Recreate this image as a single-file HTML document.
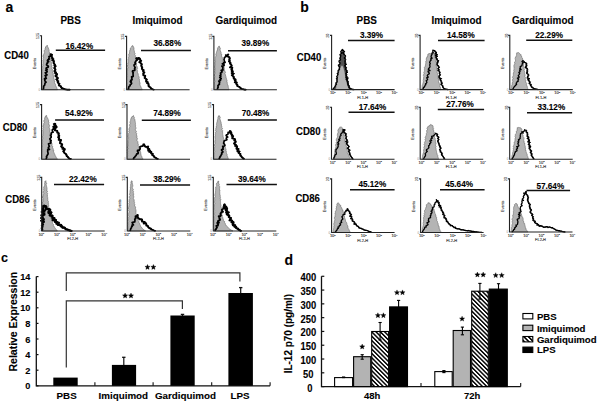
<!DOCTYPE html>
<html><head><meta charset="utf-8"><style>
html,body{margin:0;padding:0;background:#fff;width:599px;height:402px;overflow:hidden}
svg{display:block}
</style></head><body>
<svg width="599" height="402" viewBox="0 0 599 402" font-family='"Liberation Sans", sans-serif'>
<rect width="599" height="402" fill="#fff"/>
<text x="0" y="0" transform="translate(5.6,11.8) scale(1,1.05)" font-size="14" text-anchor="start" font-weight="bold" fill="#000" stroke="#000" stroke-width="0.1" >a</text>
<text x="0" y="0" transform="translate(70.7,24.2) scale(1,1.08)" font-size="9.9" text-anchor="middle" font-weight="bold" fill="#000" stroke="#000" stroke-width="0.1" >PBS</text>
<text x="0" y="0" transform="translate(157.5,24.2) scale(1,1.08)" font-size="9.9" text-anchor="middle" font-weight="bold" fill="#000" stroke="#000" stroke-width="0.1" >Imiquimod</text>
<text x="0" y="0" transform="translate(246.3,24.2) scale(1,1.08)" font-size="9.9" text-anchor="middle" font-weight="bold" fill="#000" stroke="#000" stroke-width="0.1" >Gardiquimod</text>
<text x="0" y="0" transform="translate(4.2,59.4) scale(1,1.08)" font-size="9.6" text-anchor="start" font-weight="bold" fill="#000" stroke="#000" stroke-width="0.1" >CD40</text>
<text x="0" y="0" transform="translate(2.8,130.8) scale(1,1.08)" font-size="9.6" text-anchor="start" font-weight="bold" fill="#000" stroke="#000" stroke-width="0.1" >CD80</text>
<text x="0" y="0" transform="translate(5.2,202.6) scale(1,1.08)" font-size="9.6" text-anchor="start" font-weight="bold" fill="#000" stroke="#000" stroke-width="0.1" >CD86</text>
<path d="M42.00,89.70 L42.01,89.37 L42.05,89.01 L41.98,88.60 L41.98,88.15 L41.92,87.67 L41.92,87.16 L41.86,86.62 L41.91,86.05 L42.08,85.46 L42.38,84.85 L42.22,84.21 L42.01,83.55 L42.03,82.88 L42.30,82.20 L41.96,81.50 L41.72,80.79 L42.51,80.10 L42.30,79.38 L41.81,78.66 L41.78,77.95 L41.82,77.24 L42.70,76.56 L41.87,75.84 L42.41,75.17 L42.77,74.51 L41.86,73.83 L42.24,73.20 L42.35,72.59 L42.82,72.02 L42.12,71.33 L42.22,70.68 L42.24,70.02 L42.07,69.34 L42.73,68.71 L42.90,68.04 L42.56,67.35 L42.20,66.66 L42.91,66.03 L42.97,65.37 L42.92,64.71 L42.64,64.03 L43.18,63.41 L43.02,62.76 L43.02,62.12 L43.02,61.50 L42.76,60.86 L43.03,60.27 L43.41,59.71 L43.35,59.13 L43.07,58.54 L43.59,58.04 L43.67,57.51 L42.93,56.91 L43.10,56.43 L43.23,55.96 L43.14,55.03 L44.01,54.31 L44.05,53.52 L44.09,52.77 L44.69,52.19 L44.23,51.40 L44.24,50.76 L44.33,50.18 L44.71,49.72 L45.35,49.40 L45.29,48.87 L44.93,48.25 L45.44,47.97 L45.61,46.70 L46.60,46.28 L46.83,45.49 L47.50,45.49 L47.54,46.13 L47.56,46.66 L47.95,47.29 L48.47,48.04 L48.36,49.04 L48.85,49.41 L49.25,49.84 L49.14,50.44 L48.89,51.10 L49.10,51.67 L49.68,52.18 L49.21,52.97 L49.37,53.64 L50.06,54.22 L49.55,55.09 L50.33,55.47 L50.63,55.96 L50.29,56.59 L50.04,57.22 L50.40,57.76 L50.55,58.34 L50.71,58.94 L51.01,59.53 L51.10,60.15 L51.10,60.80 L51.05,61.46 L50.76,62.16 L51.72,62.66 L51.64,63.33 L51.06,64.07 L51.44,64.62 L52.11,65.15 L51.83,65.82 L51.71,66.47 L51.54,67.14 L52.45,67.66 L51.73,68.42 L51.95,69.04 L52.53,69.61 L52.37,70.28 L52.17,70.96 L52.84,71.51 L52.49,72.20 L52.73,72.80 L53.31,73.33 L53.22,73.96 L53.20,74.62 L53.59,75.20 L52.92,75.99 L53.73,76.48 L53.87,77.11 L53.64,77.80 L53.84,78.41 L54.18,78.97 L54.31,79.57 L54.28,80.21 L54.02,80.89 L54.97,81.26 L54.32,82.02 L54.47,82.57 L54.85,83.04 L55.00,83.79 L55.53,84.42 L55.47,85.26 L55.87,85.93 L56.18,86.61 L56.52,87.23 L56.81,87.83 L56.96,88.43 L57.17,88.93 L57.38,89.34 L57.50,89.70 Z" fill="#b4b4b4" stroke="#666" stroke-width="0.6"/>
<path d="M43.00,89.70 L43.14,89.22 L43.40,88.66 L43.65,87.98 L43.53,87.09 L43.66,86.18 L44.57,85.40 L44.81,84.35 L44.99,83.22 L46.09,82.21 L45.23,81.35 L44.76,80.54 L44.95,79.79 L44.36,78.89 L46.32,78.32 L45.48,77.33 L45.86,76.49 L45.10,75.48 L47.06,74.83 L45.98,73.77 L45.24,72.76 L46.95,72.09 L47.15,71.24 L45.66,70.17 L47.17,69.56 L46.09,68.61 L46.31,67.89 L48.17,67.18 L48.38,66.21 L46.49,64.90 L46.72,63.97 L47.61,63.20 L47.24,62.22 L48.73,61.65 L47.39,60.54 L47.93,59.85 L49.09,59.37 L48.70,58.58 L49.36,58.10 L48.89,56.54 L50.62,55.98 L50.61,55.05 L50.44,54.17 L50.94,54.38 L51.14,54.35 L51.76,54.79 L51.04,56.19 L51.82,57.21 L52.24,57.78 L51.93,58.62 L53.17,59.17 L52.12,60.28 L53.62,60.94 L53.53,61.96 L53.43,63.02 L54.13,63.97 L54.66,64.63 L54.22,65.53 L55.44,66.15 L54.58,67.19 L54.04,68.20 L54.94,68.94 L55.21,69.81 L54.37,70.89 L54.42,71.79 L55.76,72.39 L55.02,73.40 L56.69,73.85 L56.74,74.77 L55.30,76.00 L56.24,76.70 L57.03,77.40 L57.72,78.10 L56.10,79.33 L57.20,79.88 L56.98,80.76 L58.07,81.21 L57.51,82.18 L58.03,83.08 L59.21,83.65 L58.64,84.94 L59.15,85.73 L60.36,85.99 L60.65,86.76 L61.11,87.37 L61.69,88.11 L62.60,88.40 L63.46,88.78 L64.31,89.17 L65.21,89.29 L66.00,89.48 L66.93,89.66 L67.86,89.72 L68.74,89.72 L69.47,89.70 L70.00,89.70" fill="none" stroke="#000" stroke-width="1.7" stroke-linejoin="round"/>
<path d="M51.22,55.98 L51.21,55.05 L51.04,54.17 L51.54,54.38 L51.74,54.35 L52.36,54.79 L51.64,56.19 L52.42,57.21 L52.84,57.78 L52.53,58.62 L53.77,59.17 L52.72,60.28 L54.22,60.94 L54.13,61.96 L54.03,63.02 L54.73,63.97 L55.26,64.63 L54.82,65.53 L56.04,66.15 L55.18,67.19 L54.64,68.20 L55.54,68.94 L55.81,69.81 L54.97,70.89 L55.02,71.79 L56.36,72.39 L55.62,73.40 L57.29,73.85 L57.34,74.77 L55.90,76.00 L56.84,76.70 L57.63,77.40 L58.32,78.10 L56.70,79.33 L57.80,79.88 L57.58,80.76 L58.67,81.21 L58.11,82.18 L58.63,83.08 L59.81,83.65 L59.24,84.94 L59.75,85.73 L60.96,85.99 L61.25,86.76 L61.71,87.37 L62.29,88.11 L63.20,88.40 L64.06,88.78 L64.91,89.17 L65.81,89.29 L66.60,89.48 L67.53,89.66 L68.46,89.72 L69.34,89.72 L70.07,89.70 L70.60,89.70" fill="none" stroke="#000" stroke-width="1.3" stroke-linejoin="round"/>
<path d="M39.9,35.699999999999996 H41.5 V89.7 H104.5" fill="none" stroke="#222" stroke-width="1.1"/>
<text x="0" y="0" font-size="3.6" fill="#555" stroke="#555" stroke-width="0.12" font-weight="normal" transform="translate(39.3,36.099999999999994) rotate(-90)" text-anchor="middle">125</text>
<text x="0" y="0" font-size="3.7" fill="#555" stroke="#555" stroke-width="0.15" font-weight="normal" transform="translate(35.5,63.5) rotate(-90)" text-anchor="middle">Events</text>
<text x="38.5" y="90.7" font-size="3.2" fill="#888" font-weight="normal">0</text>
<line x1="55.8" y1="50.2" x2="105.1" y2="50.2" stroke="#111" stroke-width="1.4"/>
<text x="0" y="0" transform="translate(79.3,48.6) scale(1,1.08)" font-size="8.2" text-anchor="middle" font-weight="bold" fill="#000" stroke="#000" stroke-width="0.1" >16.42%</text>
<path d="M127.10,89.70 L127.12,89.37 L127.09,89.00 L127.17,88.59 L127.20,88.14 L127.24,87.65 L127.17,87.13 L127.07,86.57 L127.29,86.00 L126.94,85.39 L127.18,84.76 L126.90,84.11 L127.39,83.45 L127.23,82.77 L127.45,82.08 L126.82,81.37 L127.42,80.67 L127.50,79.95 L126.85,79.23 L126.83,78.51 L126.82,77.80 L127.01,77.10 L127.50,76.41 L126.87,75.71 L127.73,75.06 L127.24,74.39 L127.07,73.75 L127.03,73.14 L126.97,72.55 L127.38,72.00 L126.98,71.29 L127.58,70.64 L127.32,69.95 L127.18,69.26 L127.55,68.62 L127.73,67.97 L127.99,67.33 L127.29,66.63 L127.73,66.02 L127.42,65.36 L128.23,64.80 L127.53,64.12 L127.86,63.54 L128.10,62.95 L128.26,62.38 L127.92,61.76 L128.52,61.24 L128.05,60.63 L128.66,60.14 L128.13,59.53 L128.22,59.01 L128.60,58.53 L128.52,58.00 L128.49,57.23 L128.89,56.53 L129.09,55.83 L128.48,55.00 L128.76,54.35 L129.00,53.71 L129.77,53.22 L129.55,52.53 L129.25,51.84 L129.91,51.42 L129.61,50.76 L129.79,50.26 L130.64,50.00 L130.23,49.38 L130.20,48.89 L130.53,47.91 L131.23,47.23 L131.64,46.61 L131.86,46.02 L132.19,45.62 L132.63,45.69 L132.56,46.20 L133.21,46.21 L133.47,46.70 L133.68,47.33 L134.04,48.05 L133.90,49.00 L133.92,50.02 L133.93,50.50 L134.52,50.88 L134.39,51.46 L134.05,52.11 L134.61,52.59 L134.99,53.13 L135.21,53.74 L134.64,54.51 L134.94,55.14 L135.60,55.70 L135.20,56.49 L135.87,57.08 L135.67,57.85 L135.68,58.58 L135.93,59.27 L135.94,60.01 L136.52,60.49 L136.57,61.07 L136.54,61.68 L136.18,62.35 L136.56,62.92 L136.38,63.58 L136.54,64.20 L136.55,64.86 L136.46,65.53 L136.90,66.12 L137.19,66.74 L137.39,67.38 L137.09,68.08 L137.65,68.66 L136.99,69.41 L137.10,70.04 L137.46,70.63 L137.26,71.29 L137.77,71.83 L137.42,72.50 L137.85,73.03 L138.05,73.68 L138.40,74.31 L137.88,75.08 L138.53,75.67 L138.83,76.30 L138.81,76.99 L139.24,77.59 L138.84,78.32 L139.37,78.89 L139.45,79.52 L139.66,80.12 L139.33,80.80 L139.53,81.36 L139.45,81.97 L140.08,82.40 L139.37,83.11 L140.23,83.44 L139.85,84.04 L140.01,84.88 L140.30,85.63 L140.71,86.29 L140.95,86.96 L141.17,87.58 L141.56,88.07 L141.79,88.57 L141.98,89.01 L142.17,89.38 L142.30,89.70 Z" fill="#b4b4b4" stroke="#666" stroke-width="0.6"/>
<path d="M128.10,89.70 L128.23,89.23 L128.53,88.70 L128.79,88.04 L128.74,87.15 L129.12,86.37 L130.12,85.77 L130.17,84.76 L131.11,84.06 L131.64,83.20 L130.17,81.74 L131.27,81.26 L130.61,80.23 L132.14,79.76 L131.75,78.77 L131.95,77.91 L131.55,76.90 L133.14,76.36 L133.18,75.45 L133.08,74.52 L132.99,73.61 L133.28,72.80 L132.47,71.76 L132.63,70.89 L134.73,70.43 L134.90,69.53 L134.56,68.55 L135.27,67.79 L134.73,66.79 L134.21,65.82 L133.97,64.92 L134.95,64.34 L135.51,63.72 L134.91,62.81 L135.49,61.72 L136.06,60.70 L137.28,60.09 L136.10,58.47 L136.81,57.91 L138.31,59.04 L138.46,57.80 L139.39,58.36 L140.08,59.75 L140.02,60.44 L140.95,60.84 L139.14,62.23 L140.19,62.74 L140.82,63.45 L141.56,64.18 L141.10,65.29 L141.31,66.22 L141.78,67.08 L141.99,68.00 L141.77,68.84 L142.24,69.52 L143.48,70.00 L142.90,71.02 L143.15,71.83 L144.15,72.42 L143.07,73.62 L143.19,74.47 L143.19,75.34 L144.93,75.66 L144.84,76.51 L144.60,77.38 L144.61,78.14 L145.61,78.83 L146.56,79.49 L145.98,80.69 L145.98,81.65 L147.39,81.98 L146.86,83.10 L148.10,83.36 L148.21,84.10 L148.34,84.80 L148.43,86.08 L149.18,86.78 L150.01,87.23 L150.51,87.88 L150.95,88.57 L151.82,88.98 L152.69,89.32 L153.45,89.56 L154.00,89.70" fill="none" stroke="#000" stroke-width="1.7" stroke-linejoin="round"/>
<path d="M138.91,59.04 L139.06,57.80 L139.99,58.36 L140.68,59.75 L140.62,60.44 L141.55,60.84 L139.74,62.23 L140.79,62.74 L141.42,63.45 L142.16,64.18 L141.70,65.29 L141.91,66.22 L142.38,67.08 L142.59,68.00 L142.37,68.84 L142.84,69.52 L144.08,70.00 L143.50,71.02 L143.75,71.83 L144.75,72.42 L143.67,73.62 L143.79,74.47 L143.79,75.34 L145.53,75.66 L145.44,76.51 L145.20,77.38 L145.21,78.14 L146.21,78.83 L147.16,79.49 L146.58,80.69 L146.58,81.65 L147.99,81.98 L147.46,83.10 L148.70,83.36 L148.81,84.10 L148.94,84.80 L149.03,86.08 L149.78,86.78 L150.61,87.23 L151.11,87.88 L151.55,88.57 L152.42,88.98 L153.29,89.32 L154.05,89.56 L154.60,89.70" fill="none" stroke="#000" stroke-width="1.3" stroke-linejoin="round"/>
<path d="M125.0,36.4 H126.6 V89.7 H189.6" fill="none" stroke="#222" stroke-width="1.1"/>
<text x="0" y="0" font-size="3.6" fill="#555" stroke="#555" stroke-width="0.12" font-weight="normal" transform="translate(124.39999999999999,36.8) rotate(-90)" text-anchor="middle">125</text>
<text x="0" y="0" font-size="3.7" fill="#555" stroke="#555" stroke-width="0.15" font-weight="normal" transform="translate(120.6,63.85) rotate(-90)" text-anchor="middle">Events</text>
<text x="123.6" y="90.7" font-size="3.2" fill="#888" font-weight="normal">0</text>
<line x1="141" y1="50.5" x2="190.9" y2="50.5" stroke="#111" stroke-width="1.4"/>
<text x="0" y="0" transform="translate(167.3,46.3) scale(1,1.08)" font-size="8.2" text-anchor="middle" font-weight="bold" fill="#000" stroke="#000" stroke-width="0.1" >36.88%</text>
<path d="M214.40,89.70 L214.41,89.37 L214.43,89.00 L214.42,88.59 L214.40,88.15 L214.45,87.67 L214.36,87.16 L214.60,86.62 L214.47,86.05 L214.63,85.46 L214.45,84.84 L214.71,84.21 L214.46,83.55 L214.10,82.87 L214.69,82.19 L214.97,81.50 L214.63,80.79 L214.74,80.08 L214.43,79.35 L214.33,78.63 L214.36,77.91 L214.72,77.19 L215.06,76.48 L214.24,75.75 L214.45,75.05 L214.37,74.36 L215.08,73.70 L215.13,73.03 L214.87,72.38 L214.64,71.74 L214.88,71.14 L215.16,70.57 L214.52,69.99 L215.15,69.32 L215.13,68.63 L214.77,67.92 L214.82,67.24 L214.79,66.56 L214.69,65.88 L215.17,65.24 L215.15,64.58 L214.74,63.89 L215.20,63.28 L215.01,62.62 L215.07,62.00 L215.65,61.42 L214.91,60.75 L215.09,60.17 L215.25,59.59 L215.53,59.04 L215.14,58.44 L215.78,57.96 L215.29,57.37 L215.67,56.89 L215.65,56.38 L216.32,55.97 L216.02,55.46 L215.79,54.97 L215.92,54.09 L216.25,53.30 L216.48,52.57 L216.47,51.85 L216.90,51.28 L217.02,50.70 L217.02,50.12 L217.66,49.78 L217.32,49.16 L217.35,48.69 L217.83,48.43 L217.47,47.86 L218.57,46.98 L218.79,46.27 L219.50,46.23 L219.13,46.97 L219.27,47.33 L220.06,47.57 L220.29,48.14 L220.42,48.80 L220.02,49.67 L220.22,50.44 L220.59,51.20 L220.65,52.08 L221.21,52.48 L221.28,53.03 L221.05,53.66 L221.12,54.26 L221.97,54.72 L221.54,55.46 L221.71,56.09 L221.74,56.76 L222.41,57.32 L221.96,58.10 L222.62,58.67 L222.97,59.30 L222.26,60.13 L222.78,60.71 L223.19,61.30 L222.59,62.08 L223.48,62.55 L223.24,63.25 L223.22,63.91 L223.45,64.51 L223.44,65.16 L223.35,65.83 L223.85,66.38 L223.77,67.05 L224.21,67.61 L224.22,68.26 L224.39,68.87 L224.28,69.54 L224.79,70.09 L224.49,70.80 L224.89,71.37 L225.34,71.93 L225.53,72.55 L224.79,73.36 L225.29,73.92 L225.34,74.58 L225.58,75.21 L225.48,75.90 L226.07,76.46 L225.91,77.16 L226.19,77.77 L226.42,78.38 L226.28,79.06 L226.69,79.62 L226.81,80.23 L227.20,80.77 L226.83,81.45 L227.29,81.94 L227.21,82.68 L227.28,83.40 L227.45,84.11 L227.63,84.80 L228.03,85.43 L228.24,86.09 L228.21,86.79 L228.29,87.43 L228.60,87.96 L228.69,88.49 L228.79,88.97 L228.91,89.37 L229.00,89.70 Z" fill="#b4b4b4" stroke="#666" stroke-width="0.6"/>
<path d="M217.30,89.70 L217.39,89.24 L217.63,88.72 L217.64,88.06 L218.10,87.44 L218.09,86.64 L217.87,85.72 L218.48,84.97 L219.48,84.27 L219.28,83.24 L219.63,82.33 L218.73,81.09 L220.49,80.52 L219.95,79.38 L221.23,78.70 L219.76,77.37 L220.85,76.70 L219.96,75.59 L220.97,74.99 L220.62,73.99 L220.51,73.05 L221.83,72.42 L222.03,71.54 L221.14,70.43 L223.06,69.92 L222.73,68.95 L222.79,68.07 L222.88,67.22 L221.84,66.13 L223.74,65.72 L224.31,65.04 L222.30,63.76 L224.07,63.45 L223.64,62.60 L225.13,62.35 L224.30,60.87 L224.02,59.56 L224.33,58.48 L224.46,57.39 L225.59,56.83 L226.17,56.19 L225.67,55.02 L227.28,55.59 L227.27,55.28 L228.06,54.43 L226.88,55.94 L227.54,56.47 L229.09,57.20 L229.54,58.41 L228.99,60.00 L229.47,60.52 L228.81,61.41 L229.57,61.99 L230.24,62.65 L229.86,63.60 L230.64,64.31 L231.26,65.09 L231.42,65.98 L229.81,67.31 L232.06,67.69 L231.65,68.71 L231.21,69.72 L232.22,70.33 L231.62,71.32 L232.69,71.80 L231.53,73.16 L233.55,73.57 L231.69,75.12 L232.50,75.85 L233.41,76.50 L233.44,77.42 L233.55,78.27 L234.03,78.97 L235.32,79.32 L234.61,80.39 L235.41,80.82 L234.67,82.29 L236.48,82.44 L236.06,83.62 L236.41,84.35 L237.15,84.78 L237.03,85.82 L237.65,86.31 L238.64,86.61 L239.38,87.10 L239.97,87.72 L240.65,88.21 L241.27,88.76 L242.00,89.01 L242.88,89.24 L243.79,89.49 L244.69,89.59 L245.46,89.65 L246.00,89.70" fill="none" stroke="#000" stroke-width="1.7" stroke-linejoin="round"/>
<path d="M227.88,55.59 L227.87,55.28 L228.66,54.43 L227.48,55.94 L228.14,56.47 L229.69,57.20 L230.14,58.41 L229.59,60.00 L230.07,60.52 L229.41,61.41 L230.17,61.99 L230.84,62.65 L230.46,63.60 L231.24,64.31 L231.86,65.09 L232.02,65.98 L230.41,67.31 L232.66,67.69 L232.25,68.71 L231.81,69.72 L232.82,70.33 L232.22,71.32 L233.29,71.80 L232.13,73.16 L234.15,73.57 L232.29,75.12 L233.10,75.85 L234.01,76.50 L234.04,77.42 L234.15,78.27 L234.63,78.97 L235.92,79.32 L235.21,80.39 L236.01,80.82 L235.27,82.29 L237.08,82.44 L236.66,83.62 L237.01,84.35 L237.75,84.78 L237.63,85.82 L238.25,86.31 L239.24,86.61 L239.98,87.10 L240.57,87.72 L241.25,88.21 L241.87,88.76 L242.60,89.01 L243.48,89.24 L244.39,89.49 L245.29,89.59 L246.06,89.65 L246.60,89.70" fill="none" stroke="#000" stroke-width="1.3" stroke-linejoin="round"/>
<path d="M212.3,36.4 H213.9 V89.7 H276.9" fill="none" stroke="#222" stroke-width="1.1"/>
<text x="0" y="0" font-size="3.6" fill="#555" stroke="#555" stroke-width="0.12" font-weight="normal" transform="translate(211.70000000000002,36.8) rotate(-90)" text-anchor="middle">125</text>
<text x="0" y="0" font-size="3.7" fill="#555" stroke="#555" stroke-width="0.15" font-weight="normal" transform="translate(207.9,63.85) rotate(-90)" text-anchor="middle">Events</text>
<text x="210.9" y="90.7" font-size="3.2" fill="#888" font-weight="normal">0</text>
<line x1="228" y1="50.8" x2="276.9" y2="50.8" stroke="#111" stroke-width="1.4"/>
<text x="0" y="0" transform="translate(255.3,46.3) scale(1,1.08)" font-size="8.2" text-anchor="middle" font-weight="bold" fill="#000" stroke="#000" stroke-width="0.1" >39.89%</text>
<path d="M42.30,159.20 L42.30,158.88 L42.34,158.52 L42.26,158.12 L42.26,157.69 L42.20,157.22 L42.20,156.73 L42.13,156.20 L42.16,155.65 L42.33,155.08 L42.61,154.48 L42.45,153.86 L42.23,153.22 L42.25,152.57 L42.51,151.90 L42.16,151.22 L41.91,150.54 L42.68,149.84 L42.46,149.14 L41.96,148.44 L41.93,147.73 L41.96,147.03 L42.83,146.34 L41.99,145.64 L42.51,144.96 L42.87,144.29 L41.95,143.61 L42.31,142.96 L42.41,142.33 L42.87,141.73 L42.15,141.11 L42.24,140.54 L42.25,139.99 L42.07,139.30 L42.73,138.64 L42.90,137.97 L42.55,137.27 L42.18,136.58 L42.89,135.94 L42.94,135.28 L42.90,134.62 L42.61,133.95 L43.15,133.33 L42.99,132.68 L42.99,132.05 L42.98,131.43 L42.72,130.80 L42.98,130.22 L43.36,129.66 L43.30,129.08 L43.01,128.49 L43.53,127.98 L43.59,127.45 L42.85,126.86 L43.01,126.37 L43.13,125.89 L42.97,125.40 L43.75,125.03 L43.76,124.06 L43.78,123.18 L44.36,122.47 L43.87,121.64 L43.85,120.94 L43.91,120.31 L44.28,119.81 L44.90,119.44 L44.82,118.90 L44.44,118.29 L44.94,117.98 L44.97,116.80 L45.86,116.33 L45.94,115.54 L46.61,115.50 L46.66,116.17 L46.74,116.82 L47.20,117.51 L47.76,118.22 L47.66,119.05 L48.24,119.48 L48.69,119.89 L48.65,120.52 L48.44,121.26 L48.68,122.03 L49.18,122.42 L48.62,123.01 L48.69,123.53 L49.31,124.02 L48.69,124.67 L49.45,125.22 L49.71,125.84 L49.33,126.56 L49.06,127.30 L49.40,128.01 L49.51,128.52 L49.63,129.06 L49.89,129.60 L49.93,130.19 L49.89,130.81 L49.81,131.44 L49.48,132.10 L50.41,132.65 L50.30,133.30 L49.68,134.01 L50.03,134.61 L50.69,135.16 L50.40,135.82 L50.27,136.44 L50.09,137.06 L51.01,137.59 L50.30,138.36 L50.53,138.98 L51.13,139.53 L50.98,140.20 L50.81,140.88 L51.50,141.38 L51.17,142.08 L51.43,142.66 L52.03,143.15 L51.96,143.79 L51.95,144.40 L52.35,144.92 L51.72,145.73 L52.55,146.19 L52.72,146.80 L52.54,147.51 L52.77,148.10 L53.14,148.64 L53.31,149.23 L53.32,149.85 L53.10,150.54 L54.06,150.83 L53.45,151.61 L53.63,152.13 L54.11,152.79 L54.31,153.53 L54.84,154.12 L54.80,154.90 L55.18,155.46 L55.47,156.02 L55.79,156.52 L56.07,156.96 L56.42,157.82 L56.86,158.43 L57.26,158.86 L57.50,159.20 Z" fill="#b4b4b4" stroke="#666" stroke-width="0.6"/>
<path d="M46.00,159.20 L46.19,158.73 L46.41,158.14 L46.74,157.47 L46.46,156.52 L46.99,155.74 L47.44,154.87 L48.07,154.02 L48.09,152.97 L47.65,151.81 L47.81,150.82 L47.64,149.81 L49.48,149.37 L48.33,148.27 L48.41,147.40 L49.32,146.65 L49.06,145.68 L48.72,144.69 L48.52,143.73 L50.71,143.18 L50.88,142.32 L50.44,141.37 L51.15,140.67 L50.10,139.67 L49.87,138.86 L50.60,138.01 L51.22,137.21 L51.15,136.29 L50.42,135.21 L51.29,134.64 L51.19,133.82 L51.23,133.07 L51.95,132.56 L53.11,132.18 L52.32,130.89 L52.29,129.88 L52.95,129.14 L54.68,128.78 L53.63,127.65 L53.08,126.78 L54.87,125.63 L53.70,123.99 L54.95,123.64 L54.30,124.56 L55.24,125.15 L54.15,126.30 L56.45,127.09 L54.92,128.40 L54.73,129.44 L54.73,130.43 L56.88,130.68 L57.19,131.90 L57.07,132.69 L58.46,133.04 L58.48,133.95 L58.26,135.01 L59.01,135.80 L57.98,137.23 L58.95,138.02 L58.77,138.90 L58.58,139.84 L60.83,139.92 L60.27,141.05 L60.09,142.07 L59.83,143.12 L60.91,143.67 L61.95,144.21 L61.68,145.24 L60.96,146.42 L61.68,147.10 L63.07,147.51 L62.19,148.83 L64.42,148.87 L64.44,149.79 L63.05,151.30 L63.76,151.90 L64.01,152.66 L64.54,153.24 L65.59,153.88 L66.18,154.68 L66.37,155.67 L66.89,156.38 L67.61,156.85 L67.97,157.53 L68.80,158.19 L69.66,158.69 L70.47,158.93 L71.00,159.20" fill="none" stroke="#000" stroke-width="1.7" stroke-linejoin="round"/>
<path d="M55.28,128.78 L55.47,125.63 L55.55,123.64 L54.90,124.56 L55.84,125.15 L57.05,127.09 L55.52,128.40 L55.33,129.44 L55.33,130.43 L57.48,130.68 L57.79,131.90 L57.67,132.69 L59.06,133.04 L59.08,133.95 L58.86,135.01 L59.61,135.80 L58.58,137.23 L59.55,138.02 L59.37,138.90 L59.18,139.84 L61.43,139.92 L60.87,141.05 L60.69,142.07 L60.43,143.12 L61.51,143.67 L62.55,144.21 L62.28,145.24 L61.56,146.42 L62.28,147.10 L63.67,147.51 L62.79,148.83 L65.02,148.87 L65.04,149.79 L63.65,151.30 L64.36,151.90 L64.61,152.66 L65.14,153.24 L66.19,153.88 L66.78,154.68 L66.97,155.67 L67.49,156.38 L68.21,156.85 L68.57,157.53 L69.40,158.19 L70.26,158.69 L71.07,158.93 L71.60,159.20" fill="none" stroke="#000" stroke-width="1.3" stroke-linejoin="round"/>
<path d="M40.0,104.60000000000001 H41.6 V159.2 H104.6" fill="none" stroke="#222" stroke-width="1.1"/>
<text x="0" y="0" font-size="3.6" fill="#555" stroke="#555" stroke-width="0.12" font-weight="normal" transform="translate(39.4,105.0) rotate(-90)" text-anchor="middle">125</text>
<text x="0" y="0" font-size="3.7" fill="#555" stroke="#555" stroke-width="0.15" font-weight="normal" transform="translate(35.6,132.7) rotate(-90)" text-anchor="middle">Events</text>
<text x="38.6" y="160.2" font-size="3.2" fill="#888" font-weight="normal">0</text>
<line x1="55.1" y1="120" x2="104" y2="120" stroke="#111" stroke-width="1.4"/>
<text x="0" y="0" transform="translate(78.9,115.6) scale(1,1.08)" font-size="8.2" text-anchor="middle" font-weight="bold" fill="#000" stroke="#000" stroke-width="0.1" >54.92%</text>
<path d="M127.40,159.20 L127.40,158.87 L127.44,158.49 L127.47,158.06 L127.46,157.60 L127.31,157.09 L127.36,156.55 L127.39,155.98 L127.69,155.39 L127.56,154.76 L127.51,154.11 L127.62,153.44 L127.20,152.75 L127.69,152.06 L127.70,151.35 L127.27,150.62 L127.44,149.91 L127.52,149.19 L128.09,148.49 L127.53,147.75 L127.22,147.02 L128.04,146.36 L128.12,145.69 L127.64,144.99 L128.06,144.43 L128.36,143.85 L127.82,143.19 L128.13,142.59 L128.06,141.95 L128.11,141.31 L128.16,140.67 L128.52,140.04 L128.65,139.40 L128.72,138.74 L127.98,138.01 L128.76,137.42 L128.09,136.70 L128.19,136.05 L128.25,135.41 L128.25,134.76 L128.66,134.16 L128.39,133.50 L128.79,132.92 L129.31,132.36 L128.89,131.72 L128.63,131.10 L129.37,130.62 L129.20,130.04 L128.92,129.47 L129.14,128.98 L129.16,128.17 L129.56,127.42 L130.02,126.71 L129.39,125.87 L129.73,125.19 L129.67,124.47 L130.13,123.85 L130.48,123.25 L129.93,122.52 L129.95,121.91 L130.26,121.38 L130.57,120.88 L130.59,120.34 L130.87,119.90 L130.62,119.35 L131.02,119.01 L131.03,117.87 L131.83,117.23 L132.01,116.44 L132.76,116.39 L132.96,115.96 L133.48,115.59 L133.43,116.29 L133.91,116.52 L133.98,117.10 L134.53,117.64 L134.15,118.52 L134.70,119.24 L135.08,120.05 L134.84,120.99 L135.21,121.43 L134.98,122.00 L135.35,122.52 L135.38,123.11 L135.53,123.70 L135.55,124.33 L134.93,125.03 L135.69,125.60 L135.55,126.27 L135.39,126.93 L135.86,127.54 L135.92,128.17 L135.89,128.79 L135.35,129.47 L135.43,130.05 L135.74,130.67 L136.40,131.23 L136.35,131.87 L135.92,132.57 L136.45,133.12 L136.71,133.70 L136.59,134.34 L136.10,135.03 L136.92,135.52 L136.38,136.23 L137.25,136.71 L136.76,137.41 L136.75,138.04 L137.57,138.54 L137.27,139.25 L136.91,139.98 L137.02,140.63 L137.47,141.23 L137.96,141.81 L137.91,142.49 L138.13,143.10 L137.90,143.79 L138.43,144.30 L138.03,144.98 L138.22,145.52 L138.55,145.99 L138.81,146.74 L138.55,147.55 L139.34,148.01 L139.21,148.70 L139.86,149.12 L140.06,149.68 L139.83,150.39 L140.26,150.92 L140.39,151.58 L140.56,152.24 L140.84,152.88 L140.79,153.60 L141.06,154.22 L140.92,154.94 L141.16,155.51 L141.51,156.00 L141.92,156.76 L142.09,157.60 L142.53,158.23 L142.82,158.78 L143.00,159.20 Z" fill="#b4b4b4" stroke="#666" stroke-width="0.6"/>
<path d="M133.00,159.20 L133.36,158.84 L133.69,158.24 L134.11,157.55 L134.83,156.99 L135.32,156.18 L136.08,155.56 L136.43,154.66 L136.77,153.86 L138.02,153.60 L138.23,152.71 L137.51,151.39 L137.49,150.43 L139.42,150.35 L139.42,149.43 L140.15,148.93 L140.09,148.05 L139.91,146.77 L141.11,146.43 L142.25,146.19 L142.88,145.76 L143.21,145.30 L143.22,144.37 L143.93,144.27 L144.01,145.49 L144.62,145.99 L145.22,146.74 L146.17,146.81 L147.89,146.48 L147.59,147.78 L147.59,148.86 L149.00,148.95 L148.06,150.69 L149.78,150.47 L149.16,151.97 L151.01,151.65 L150.82,152.84 L151.22,153.58 L152.49,153.61 L152.13,155.13 L153.15,155.57 L153.77,156.28 L154.16,157.16 L154.98,157.52 L155.83,158.08 L156.65,158.63 L157.45,158.96 L158.00,159.20" fill="none" stroke="#000" stroke-width="1.7" stroke-linejoin="round"/>
<path d="M143.48,145.76 L143.81,145.30 L143.82,144.37 L144.53,144.27 L144.61,145.49 L145.22,145.99 L145.82,146.74 L146.77,146.81 L148.49,146.48 L148.19,147.78 L148.19,148.86 L149.60,148.95 L148.66,150.69 L150.38,150.47 L149.76,151.97 L151.61,151.65 L151.42,152.84 L151.82,153.58 L153.09,153.61 L152.73,155.13 L153.75,155.57 L154.37,156.28 L154.76,157.16 L155.58,157.52 L156.43,158.08 L157.25,158.63 L158.05,158.96 L158.60,159.20" fill="none" stroke="#000" stroke-width="1.3" stroke-linejoin="round"/>
<path d="M125.4,104.60000000000001 H127 V159.2 H190" fill="none" stroke="#222" stroke-width="1.1"/>
<text x="0" y="0" font-size="3.6" fill="#555" stroke="#555" stroke-width="0.12" font-weight="normal" transform="translate(124.8,105.0) rotate(-90)" text-anchor="middle">125</text>
<text x="0" y="0" font-size="3.7" fill="#555" stroke="#555" stroke-width="0.15" font-weight="normal" transform="translate(121,132.7) rotate(-90)" text-anchor="middle">Events</text>
<text x="124" y="160.2" font-size="3.2" fill="#888" font-weight="normal">0</text>
<line x1="141.8" y1="120.2" x2="190.9" y2="120.2" stroke="#111" stroke-width="1.4"/>
<text x="0" y="0" transform="translate(167,115.6) scale(1,1.08)" font-size="8.2" text-anchor="middle" font-weight="bold" fill="#000" stroke="#000" stroke-width="0.1" >74.89%</text>
<path d="M214.00,159.20 L214.02,158.88 L214.05,158.53 L214.05,158.13 L214.05,157.71 L214.11,157.26 L214.04,156.77 L214.28,156.27 L214.17,155.72 L214.34,155.17 L214.18,154.58 L214.45,153.98 L214.23,153.35 L213.91,152.70 L214.49,152.07 L214.79,151.42 L214.48,150.73 L214.61,150.05 L214.32,149.34 L214.24,148.64 L214.30,147.95 L214.67,147.26 L215.04,146.58 L214.24,145.84 L214.48,145.16 L214.41,144.46 L215.14,143.82 L215.22,143.16 L214.98,142.48 L214.77,141.82 L215.04,141.21 L215.34,140.62 L214.72,139.98 L215.37,139.40 L215.37,138.76 L215.03,138.09 L215.10,137.44 L215.08,136.78 L215.00,136.10 L215.51,135.48 L215.50,134.81 L215.12,134.10 L215.60,133.48 L215.43,132.79 L215.51,132.12 L216.10,131.52 L215.38,130.78 L215.59,130.15 L215.77,129.52 L216.06,128.91 L215.69,128.24 L216.35,127.70 L215.87,127.03 L216.27,126.48 L216.26,125.90 L216.94,125.42 L216.66,124.84 L216.44,124.27 L216.51,123.77 L216.77,123.31 L216.93,122.87 L216.84,122.40 L217.18,122.03 L217.35,120.87 L217.40,119.80 L218.10,119.00 L217.81,118.06 L217.89,117.33 L218.43,116.89 L218.17,116.21 L218.92,116.24 L218.89,115.85 L219.12,115.47 L219.04,116.18 L219.13,116.35 L219.89,116.45 L220.13,116.98 L220.27,117.64 L219.85,118.53 L220.05,119.33 L220.41,120.17 L220.46,121.12 L221.09,121.98 L221.14,122.47 L220.88,123.04 L220.92,123.58 L221.75,124.02 L221.28,124.70 L221.42,125.30 L221.42,125.94 L222.06,126.50 L221.58,127.24 L222.21,127.83 L222.53,128.47 L221.78,129.26 L222.26,129.88 L222.65,130.52 L222.01,131.29 L222.88,131.84 L222.60,132.55 L222.56,133.21 L222.76,133.82 L222.72,134.45 L222.60,135.07 L223.09,135.67 L222.99,136.36 L223.42,136.96 L223.41,137.62 L223.57,138.25 L223.45,138.93 L223.94,139.49 L223.62,140.18 L224.01,140.75 L224.46,141.29 L224.63,141.88 L223.87,142.64 L224.36,143.16 L224.40,143.76 L224.63,144.31 L224.51,144.93 L225.09,145.40 L224.91,146.02 L225.20,146.65 L225.44,147.30 L225.32,148.02 L225.73,148.63 L225.87,149.29 L226.27,149.88 L225.91,150.62 L226.40,151.17 L226.29,151.83 L226.32,152.44 L226.44,153.01 L226.58,153.55 L226.97,154.00 L227.15,154.47 L227.00,155.00 L227.14,155.92 L227.61,156.64 L227.78,157.35 L227.97,157.95 L228.19,158.45 L228.38,158.86 L228.50,159.20 Z" fill="#b4b4b4" stroke="#666" stroke-width="0.6"/>
<path d="M219.00,159.20 L219.25,158.75 L219.43,158.12 L219.95,157.52 L219.99,156.59 L220.82,155.92 L221.07,154.95 L221.79,154.13 L221.58,152.94 L222.73,152.26 L222.85,151.52 L221.59,150.32 L221.62,149.52 L223.20,149.15 L222.85,148.18 L223.21,147.41 L222.65,146.37 L224.33,145.96 L224.98,145.28 L224.47,144.28 L223.60,143.17 L223.80,142.40 L223.98,141.66 L224.26,140.74 L225.66,140.20 L226.90,139.62 L226.26,138.39 L226.62,137.55 L227.74,137.04 L226.13,135.51 L226.46,134.80 L227.51,134.47 L228.02,134.01 L228.11,132.24 L229.67,132.18 L229.83,130.96 L230.52,131.40 L229.77,132.82 L231.25,132.88 L230.99,134.16 L232.06,134.97 L231.62,135.89 L232.87,136.20 L232.30,137.30 L232.07,138.31 L233.84,138.64 L234.86,139.26 L234.13,140.51 L235.29,141.06 L235.46,141.93 L233.90,143.44 L234.54,144.15 L235.63,144.66 L234.97,145.88 L236.80,146.04 L236.84,146.94 L236.35,148.06 L236.44,148.93 L238.34,148.96 L237.36,150.29 L237.29,151.32 L239.35,151.36 L238.38,152.80 L239.06,153.45 L240.20,153.83 L240.04,154.83 L240.22,155.63 L240.89,156.08 L241.55,156.95 L242.22,157.76 L243.05,158.25 L243.56,158.84 L244.00,159.20" fill="none" stroke="#000" stroke-width="1.7" stroke-linejoin="round"/>
<path d="M230.27,132.18 L230.43,130.96 L231.12,131.40 L230.37,132.82 L231.85,132.88 L231.59,134.16 L232.66,134.97 L232.22,135.89 L233.47,136.20 L232.90,137.30 L232.67,138.31 L234.44,138.64 L235.46,139.26 L234.73,140.51 L235.89,141.06 L236.06,141.93 L234.50,143.44 L235.14,144.15 L236.23,144.66 L235.57,145.88 L237.40,146.04 L237.44,146.94 L236.95,148.06 L237.04,148.93 L238.94,148.96 L237.96,150.29 L237.89,151.32 L239.95,151.36 L238.98,152.80 L239.66,153.45 L240.80,153.83 L240.64,154.83 L240.82,155.63 L241.49,156.08 L242.15,156.95 L242.82,157.76 L243.65,158.25 L244.16,158.84 L244.60,159.20" fill="none" stroke="#000" stroke-width="1.3" stroke-linejoin="round"/>
<path d="M211.9,104.60000000000001 H213.5 V159.2 H276.5" fill="none" stroke="#222" stroke-width="1.1"/>
<text x="0" y="0" font-size="3.6" fill="#555" stroke="#555" stroke-width="0.12" font-weight="normal" transform="translate(211.3,105.0) rotate(-90)" text-anchor="middle">125</text>
<text x="0" y="0" font-size="3.7" fill="#555" stroke="#555" stroke-width="0.15" font-weight="normal" transform="translate(207.5,132.7) rotate(-90)" text-anchor="middle">Events</text>
<text x="210.5" y="160.2" font-size="3.2" fill="#888" font-weight="normal">0</text>
<line x1="227.8" y1="120" x2="276.9" y2="120" stroke="#111" stroke-width="1.4"/>
<text x="0" y="0" transform="translate(255.5,115.6) scale(1,1.08)" font-size="8.2" text-anchor="middle" font-weight="bold" fill="#000" stroke="#000" stroke-width="0.1" >70.48%</text>
<path d="M42.20,231.00 L42.21,230.68 L42.24,230.33 L42.17,229.95 L42.17,229.54 L42.11,229.10 L42.11,228.64 L42.06,228.15 L42.09,227.64 L42.25,227.10 L42.52,226.55 L42.37,225.97 L42.17,225.38 L42.19,224.77 L42.43,224.14 L42.11,223.50 L41.85,222.84 L42.62,222.18 L42.41,221.50 L41.91,220.81 L41.87,220.11 L41.90,219.41 L42.78,218.71 L41.93,217.99 L42.46,217.29 L42.81,216.58 L41.89,215.85 L42.25,215.14 L42.35,214.43 L42.80,213.73 L42.08,213.02 L42.16,212.33 L42.17,211.64 L41.98,210.96 L42.62,210.31 L42.77,209.66 L42.41,209.01 L42.03,208.37 L42.72,207.78 L42.76,207.18 L42.69,206.61 L42.39,206.04 L42.91,205.52 L42.73,205.01 L42.72,204.24 L42.71,203.49 L42.44,202.73 L42.70,202.01 L43.08,201.31 L43.01,200.59 L42.72,199.87 L43.24,199.22 L43.30,198.54 L42.56,197.82 L42.72,197.17 L42.84,196.54 L42.68,195.89 L43.47,195.33 L43.42,194.72 L43.37,194.12 L43.87,193.58 L43.29,192.95 L43.19,192.38 L43.16,191.83 L43.45,191.32 L44.00,190.86 L43.82,190.33 L43.34,189.77 L43.77,189.34 L43.44,188.83 L44.07,188.45 L43.63,187.95 L43.81,186.97 L44.41,186.09 L44.74,185.23 L44.68,184.35 L44.51,183.52 L45.00,182.91 L44.78,182.22 L44.68,181.62 L45.09,181.30 L45.59,181.23 L45.63,181.11 L45.86,180.74 L45.50,181.29 L45.58,181.48 L46.21,181.69 L45.63,182.28 L46.41,182.70 L46.69,183.29 L46.34,184.02 L46.07,184.78 L46.42,185.50 L46.56,186.26 L46.70,187.04 L46.98,187.79 L47.04,188.56 L47.02,189.30 L46.95,190.01 L46.62,190.61 L47.55,191.09 L47.42,191.68 L46.79,192.33 L47.13,192.90 L47.76,193.45 L47.45,194.08 L47.29,194.71 L47.08,195.35 L47.95,195.90 L47.19,196.59 L47.37,197.21 L47.91,197.80 L47.72,198.45 L47.48,199.12 L48.12,199.70 L47.73,200.38 L47.94,201.01 L48.49,201.54 L48.36,202.16 L48.28,202.79 L48.63,203.39 L47.90,204.12 L48.66,204.69 L48.75,205.33 L48.47,206.03 L48.61,206.67 L48.90,207.29 L48.97,207.93 L48.88,208.58 L48.55,209.26 L49.45,209.75 L48.71,210.45 L48.76,211.03 L49.09,211.54 L49.05,212.08 L49.54,212.52 L49.04,213.08 L49.41,213.89 L49.61,214.64 L49.98,215.26 L50.35,215.81 L50.03,216.49 L50.14,217.03 L50.99,217.32 L50.85,217.90 L50.80,218.48 L51.27,218.91 L51.58,219.56 L51.76,220.24 L52.16,220.81 L52.32,221.48 L52.33,222.20 L52.49,222.84 L52.63,223.48 L53.15,223.93 L53.55,224.51 L53.28,225.37 L53.75,225.87 L54.02,226.45 L54.31,227.00 L54.76,227.45 L54.97,228.02 L55.46,228.56 L55.86,229.21 L56.34,229.78 L56.87,230.23 L57.21,230.69 L57.50,231.00 Z" fill="#b4b4b4" stroke="#666" stroke-width="0.6"/>
<path d="M42.00,231.00 L42.03,230.51 L42.07,229.90 L42.27,229.20 L41.82,228.38 L42.01,227.52 L42.53,226.62 L41.87,225.63 L43.04,224.69 L42.28,223.67 L42.64,222.71 L43.97,221.84 L41.09,220.76 L43.55,220.07 L43.90,219.21 L41.10,218.09 L42.91,217.31 L42.38,216.35 L41.33,215.34 L44.49,214.73 L43.10,213.73 L44.42,213.03 L41.67,211.90 L42.92,211.28 L44.78,210.84 L42.72,209.86 L42.99,208.49 L43.43,207.34 L43.18,206.14 L44.27,205.70 L45.14,206.42 L45.37,206.04 L46.06,206.87 L45.97,208.64 L46.99,208.82 L47.84,209.20 L49.46,209.22 L50.04,209.92 L48.36,211.94 L48.49,212.89 L51.12,212.34 L50.39,213.73 L49.62,215.12 L50.26,215.70 L52.17,215.55 L52.08,216.56 L52.25,217.46 L52.32,218.47 L54.16,218.13 L52.66,220.23 L54.79,219.69 L55.65,220.07 L54.80,221.81 L55.79,222.05 L56.98,222.02 L56.31,223.70 L58.52,222.64 L57.80,224.86 L58.88,224.82 L59.63,225.17 L60.84,224.78 L60.77,226.35 L61.98,226.27 L62.27,227.58 L63.34,227.67 L64.43,227.65 L64.98,228.54 L65.69,229.18 L66.58,229.46 L67.51,229.59 L68.22,230.14 L69.03,230.20 L70.17,230.70 L71.25,230.89 L72.00,231.00" fill="none" stroke="#000" stroke-width="2.2" stroke-linejoin="round"/>
<path d="M45.38,210.84 L45.74,206.42 L45.97,206.04 L46.66,206.87 L46.57,208.64 L47.59,208.82 L48.44,209.20 L50.06,209.22 L50.64,209.92 L48.96,211.94 L49.09,212.89 L51.72,212.34 L50.99,213.73 L50.22,215.12 L50.86,215.70 L52.77,215.55 L52.68,216.56 L52.85,217.46 L52.92,218.47 L54.76,218.13 L53.26,220.23 L55.39,219.69 L56.25,220.07 L55.40,221.81 L56.39,222.05 L57.58,222.02 L56.91,223.70 L59.12,222.64 L58.40,224.86 L59.48,224.82 L60.23,225.17 L61.44,224.78 L61.37,226.35 L62.58,226.27 L62.87,227.58 L63.94,227.67 L65.03,227.65 L65.58,228.54 L66.29,229.18 L67.18,229.46 L68.11,229.59 L68.82,230.14 L69.63,230.20 L70.77,230.70 L71.85,230.89 L72.60,231.00" fill="none" stroke="#000" stroke-width="1.6" stroke-linejoin="round"/>
<path d="M40.1,177.4 H41.7 V231 H104.7" fill="none" stroke="#222" stroke-width="1.1"/>
<text x="0" y="0" font-size="3.6" fill="#555" stroke="#555" stroke-width="0.12" font-weight="normal" transform="translate(39.5,177.8) rotate(-90)" text-anchor="middle">125</text>
<text x="0" y="0" font-size="3.7" fill="#555" stroke="#555" stroke-width="0.15" font-weight="normal" transform="translate(35.7,205.0) rotate(-90)" text-anchor="middle">Events</text>
<text x="38.7" y="232" font-size="3.2" fill="#888" font-weight="normal">0</text>
<text x="41.300000000000004" y="235.6" font-size="4.0" fill="#333" stroke="#333" stroke-width="0.12" font-weight="normal" text-anchor="middle">10<tspan font-size="2.4" dy="-1.4">0</tspan></text>
<text x="57.0" y="235.6" font-size="4.0" fill="#333" stroke="#333" stroke-width="0.12" font-weight="normal" text-anchor="middle">10<tspan font-size="2.4" dy="-1.4">1</tspan></text>
<text x="72.7" y="235.6" font-size="4.0" fill="#333" stroke="#333" stroke-width="0.12" font-weight="normal" text-anchor="middle">10<tspan font-size="2.4" dy="-1.4">2</tspan></text>
<text x="88.4" y="235.6" font-size="4.0" fill="#333" stroke="#333" stroke-width="0.12" font-weight="normal" text-anchor="middle">10<tspan font-size="2.4" dy="-1.4">3</tspan></text>
<text x="104.1" y="235.6" font-size="4.0" fill="#333" stroke="#333" stroke-width="0.12" font-weight="normal" text-anchor="middle">10<tspan font-size="2.4" dy="-1.4">4</tspan></text>
<text x="72.7" y="239.7" font-size="3.9" fill="#333" stroke="#333" stroke-width="0.12" font-weight="normal" text-anchor="middle">FL2-H</text>
<line x1="54" y1="184.5" x2="104.1" y2="184.5" stroke="#111" stroke-width="1.4"/>
<text x="0" y="0" transform="translate(82.8,182) scale(1,1.08)" font-size="8.2" text-anchor="middle" font-weight="bold" fill="#000" stroke="#000" stroke-width="0.1" >22.42%</text>
<path d="M128.00,231.00 L128.00,230.68 L128.04,230.33 L128.08,229.95 L128.08,229.54 L127.95,229.10 L128.01,228.64 L128.04,228.15 L128.32,227.65 L128.21,227.11 L128.17,226.55 L128.28,225.97 L127.92,225.37 L128.36,224.77 L128.37,224.14 L127.98,223.49 L128.14,222.84 L128.21,222.17 L128.78,221.51 L128.22,220.81 L127.90,220.10 L128.71,219.43 L128.78,218.72 L128.28,217.99 L128.69,217.29 L128.97,216.59 L128.41,215.85 L128.71,215.15 L128.62,214.44 L128.65,213.73 L128.67,213.03 L129.00,212.35 L129.10,211.66 L129.14,210.99 L128.37,210.29 L129.12,209.66 L128.41,208.99 L128.48,208.36 L128.51,207.75 L128.47,207.16 L128.85,206.60 L128.55,206.02 L128.91,205.51 L129.39,205.02 L128.96,204.23 L128.67,203.46 L129.40,202.76 L129.21,202.01 L128.93,201.27 L129.13,200.57 L129.10,199.86 L129.46,199.20 L129.88,198.55 L129.20,197.83 L129.50,197.20 L129.39,196.54 L129.81,195.94 L130.12,195.35 L129.51,194.68 L129.49,194.08 L129.75,193.52 L130.01,192.97 L129.97,192.40 L130.19,191.88 L129.87,191.31 L130.21,190.82 L129.89,190.28 L130.38,189.83 L130.15,189.33 L130.71,188.92 L130.45,188.44 L130.06,187.95 L130.74,186.94 L130.56,185.88 L130.81,184.93 L130.55,183.99 L131.23,183.26 L130.94,182.50 L130.83,181.86 L131.33,181.47 L131.18,181.03 L131.57,180.98 L131.88,180.74 L132.04,181.02 L132.22,181.29 L132.27,181.69 L131.69,182.29 L132.47,182.73 L132.36,183.38 L132.24,184.09 L132.73,184.76 L132.82,185.52 L132.81,186.31 L132.29,187.15 L132.38,187.92 L132.69,188.64 L133.35,189.29 L133.29,189.97 L132.85,190.62 L133.35,191.17 L133.58,191.75 L133.43,192.37 L132.89,193.02 L133.67,193.56 L133.09,194.22 L133.91,194.77 L133.37,195.44 L133.31,196.08 L134.09,196.65 L133.74,197.33 L133.34,198.03 L133.41,198.70 L133.83,199.33 L134.29,199.96 L134.19,200.54 L134.38,201.10 L134.11,201.75 L134.62,202.29 L134.19,202.99 L134.36,203.61 L134.68,204.20 L134.85,204.83 L134.50,205.54 L135.23,206.08 L135.00,206.77 L135.59,207.32 L135.71,207.94 L135.39,208.63 L135.74,209.19 L135.81,209.78 L135.91,210.36 L136.16,210.88 L135.95,211.48 L136.20,211.96 L135.76,212.84 L135.97,213.55 L136.49,214.17 L136.96,214.77 L136.33,215.61 L137.08,216.09 L137.55,216.62 L137.02,217.38 L137.69,217.81 L137.12,218.56 L137.82,218.94 L138.31,219.35 L137.77,220.07 L138.38,220.73 L138.82,221.37 L139.11,221.99 L138.89,222.77 L139.54,223.17 L139.67,223.77 L139.85,224.37 L140.00,225.00 L140.38,225.53 L140.59,226.18 L140.91,226.78 L141.31,227.30 L141.92,227.64 L142.19,228.22 L142.56,228.67 L143.01,228.99 L143.58,229.57 L144.18,230.06 L144.77,230.44 L145.25,230.76 L145.60,231.00 Z" fill="#b4b4b4" stroke="#666" stroke-width="0.6"/>
<path d="M130.00,231.00 L130.20,230.46 L130.59,229.78 L130.63,228.79 L131.33,227.97 L131.56,226.93 L132.34,226.14 L132.00,225.17 L133.46,224.86 L132.75,223.68 L132.12,222.51 L133.40,222.10 L134.78,221.80 L134.87,221.00 L134.97,220.25 L134.74,219.01 L135.78,218.45 L135.42,217.09 L135.52,215.99 L137.00,216.33 L137.42,214.85 L137.33,217.14 L137.71,217.74 L138.70,218.51 L139.57,219.35 L140.95,219.21 L141.80,219.47 L141.70,220.74 L142.03,221.64 L143.45,221.55 L144.34,221.72 L143.58,223.57 L145.40,222.96 L145.88,223.67 L146.13,224.60 L146.20,225.71 L147.29,225.67 L147.88,226.31 L148.13,227.35 L148.81,227.85 L149.43,228.42 L150.49,228.30 L150.86,229.24 L151.86,229.59 L152.86,230.06 L153.85,230.46 L154.70,230.77 L155.30,231.00" fill="none" stroke="#000" stroke-width="1.7" stroke-linejoin="round"/>
<path d="M137.60,216.33 L138.02,214.85 L137.93,217.14 L138.31,217.74 L139.30,218.51 L140.17,219.35 L141.55,219.21 L142.40,219.47 L142.30,220.74 L142.63,221.64 L144.05,221.55 L144.94,221.72 L144.18,223.57 L146.00,222.96 L146.48,223.67 L146.73,224.60 L146.80,225.71 L147.89,225.67 L148.48,226.31 L148.73,227.35 L149.41,227.85 L150.03,228.42 L151.09,228.30 L151.46,229.24 L152.46,229.59 L153.46,230.06 L154.45,230.46 L155.30,230.77 L155.90,231.00" fill="none" stroke="#000" stroke-width="1.3" stroke-linejoin="round"/>
<path d="M125.7,177.4 H127.3 V231 H190.3" fill="none" stroke="#222" stroke-width="1.1"/>
<text x="0" y="0" font-size="3.6" fill="#555" stroke="#555" stroke-width="0.12" font-weight="normal" transform="translate(125.1,177.8) rotate(-90)" text-anchor="middle">125</text>
<text x="0" y="0" font-size="3.7" fill="#555" stroke="#555" stroke-width="0.15" font-weight="normal" transform="translate(121.3,205.0) rotate(-90)" text-anchor="middle">Events</text>
<text x="124.3" y="232" font-size="3.2" fill="#888" font-weight="normal">0</text>
<text x="126.89999999999999" y="235.6" font-size="4.0" fill="#333" stroke="#333" stroke-width="0.12" font-weight="normal" text-anchor="middle">10<tspan font-size="2.4" dy="-1.4">0</tspan></text>
<text x="142.6" y="235.6" font-size="4.0" fill="#333" stroke="#333" stroke-width="0.12" font-weight="normal" text-anchor="middle">10<tspan font-size="2.4" dy="-1.4">1</tspan></text>
<text x="158.29999999999998" y="235.6" font-size="4.0" fill="#333" stroke="#333" stroke-width="0.12" font-weight="normal" text-anchor="middle">10<tspan font-size="2.4" dy="-1.4">2</tspan></text>
<text x="174.0" y="235.6" font-size="4.0" fill="#333" stroke="#333" stroke-width="0.12" font-weight="normal" text-anchor="middle">10<tspan font-size="2.4" dy="-1.4">3</tspan></text>
<text x="189.7" y="235.6" font-size="4.0" fill="#333" stroke="#333" stroke-width="0.12" font-weight="normal" text-anchor="middle">10<tspan font-size="2.4" dy="-1.4">4</tspan></text>
<text x="158.3" y="239.7" font-size="3.9" fill="#333" stroke="#333" stroke-width="0.12" font-weight="normal" text-anchor="middle">FL2-H</text>
<line x1="140" y1="185" x2="190.1" y2="185" stroke="#111" stroke-width="1.4"/>
<text x="0" y="0" transform="translate(167,182) scale(1,1.08)" font-size="8.2" text-anchor="middle" font-weight="bold" fill="#000" stroke="#000" stroke-width="0.1" >38.29%</text>
<path d="M214.00,231.00 L214.01,230.68 L214.03,230.33 L214.01,229.95 L214.00,229.54 L214.05,229.10 L213.97,228.64 L214.19,228.15 L214.07,227.64 L214.22,227.11 L214.05,226.55 L214.29,225.97 L214.06,225.38 L213.73,224.76 L214.27,224.14 L214.53,223.50 L214.22,222.84 L214.32,222.18 L214.01,221.50 L213.91,220.81 L213.94,220.11 L214.29,219.42 L214.63,218.72 L213.81,217.99 L214.02,217.28 L213.93,216.57 L214.63,215.86 L214.68,215.15 L214.41,214.44 L214.17,213.73 L214.40,213.03 L214.68,212.34 L214.02,211.64 L214.64,210.98 L214.60,210.31 L214.22,209.65 L214.25,209.00 L214.19,208.38 L214.07,207.76 L214.53,207.18 L214.49,206.60 L214.05,206.03 L214.49,205.51 L214.27,204.99 L214.31,204.23 L214.88,203.50 L214.12,202.72 L214.29,202.00 L214.43,201.28 L214.69,200.58 L214.28,199.86 L214.91,199.20 L214.40,198.49 L214.77,197.85 L214.72,197.19 L215.39,196.59 L215.07,195.94 L214.82,195.30 L214.87,194.69 L215.10,194.11 L215.24,193.54 L215.12,192.96 L215.46,192.43 L215.47,191.88 L215.36,191.33 L215.92,190.87 L215.45,190.31 L215.38,189.80 L215.79,189.37 L215.32,188.84 L216.03,188.48 L215.79,188.00 L215.64,186.96 L216.53,186.17 L216.76,185.32 L216.34,184.35 L216.51,183.58 L216.80,182.93 L217.59,182.57 L217.79,182.10 L217.84,181.64 L218.13,181.47 L217.98,180.98 L218.21,180.96 L218.12,181.29 L218.17,181.53 L219.02,181.75 L218.58,182.47 L218.75,183.15 L218.76,183.93 L219.42,184.68 L218.94,185.60 L219.57,186.39 L219.89,187.18 L219.14,188.05 L219.60,188.54 L219.95,189.06 L219.28,189.70 L220.12,190.19 L219.79,190.82 L219.71,191.42 L219.86,192.01 L219.77,192.63 L219.61,193.26 L220.04,193.85 L219.87,194.49 L220.24,195.10 L220.17,195.74 L220.26,196.37 L220.08,197.02 L220.52,197.59 L220.12,198.23 L220.45,198.84 L220.82,199.45 L220.93,200.09 L220.09,200.79 L220.51,201.42 L220.48,202.07 L220.64,202.71 L220.45,203.37 L220.96,203.98 L220.72,204.62 L220.92,205.23 L221.07,205.82 L220.86,206.44 L221.19,206.98 L221.26,207.67 L221.59,208.33 L221.15,209.05 L221.57,209.68 L221.40,210.35 L221.35,211.01 L221.41,211.63 L221.48,212.24 L221.98,212.78 L222.21,213.33 L221.82,213.95 L221.62,214.54 L222.32,214.94 L222.27,215.74 L222.18,216.49 L222.40,217.12 L222.89,217.61 L223.10,218.17 L222.73,218.93 L223.42,219.33 L223.32,220.07 L223.31,220.74 L224.23,221.03 L224.59,221.56 L224.45,222.33 L224.96,222.80 L225.23,223.37 L225.18,224.11 L225.64,224.54 L226.07,224.96 L226.27,225.67 L226.71,226.20 L227.24,226.62 L227.65,227.12 L228.21,227.47 L228.63,227.94 L228.96,228.55 L229.49,229.02 L230.22,229.31 L230.86,229.77 L231.49,230.20 L232.13,230.48 L232.63,230.79 L233.00,231.00 Z" fill="#b4b4b4" stroke="#666" stroke-width="0.6"/>
<path d="M215.00,231.00 L215.17,230.50 L215.33,229.82 L215.93,229.18 L216.42,228.31 L217.02,227.34 L216.31,225.76 L217.95,225.62 L217.89,224.84 L218.21,224.12 L217.18,222.96 L218.95,222.58 L217.86,221.35 L218.45,220.60 L219.83,220.07 L220.04,219.23 L219.35,218.15 L219.51,217.35 L218.73,216.31 L220.32,216.11 L220.95,215.28 L220.44,214.10 L220.68,213.27 L221.30,212.67 L221.55,211.95 L223.00,211.79 L222.26,210.68 L221.82,209.76 L222.92,209.05 L223.57,208.09 L223.36,206.93 L224.40,206.26 L223.83,205.36 L224.29,204.46 L224.23,205.60 L225.41,206.93 L225.01,208.92 L225.22,206.91 L225.81,206.54 L224.65,206.74 L224.77,207.35 L226.38,207.89 L226.67,208.85 L225.63,210.17 L226.77,211.00 L226.06,212.31 L228.39,212.33 L226.51,213.94 L227.05,214.68 L228.29,215.13 L228.85,215.85 L228.66,216.91 L229.37,217.53 L230.51,217.90 L230.28,218.86 L229.40,220.38 L231.30,220.37 L231.88,221.01 L231.37,222.28 L233.09,222.12 L233.01,223.08 L232.53,224.34 L232.97,225.30 L234.66,225.17 L234.31,226.69 L235.68,226.62 L235.71,227.79 L236.63,228.39 L237.70,228.71 L238.23,229.60 L239.04,229.94 L239.91,230.46 L240.72,230.81 L241.30,231.00" fill="none" stroke="#000" stroke-width="1.9" stroke-linejoin="round"/>
<path d="M224.17,208.09 L225.00,206.26 L224.43,205.36 L224.89,204.46 L224.83,205.60 L226.01,206.93 L225.61,208.92 L225.82,206.91 L226.41,206.54 L225.25,206.74 L225.37,207.35 L226.98,207.89 L227.27,208.85 L226.23,210.17 L227.37,211.00 L226.66,212.31 L228.99,212.33 L227.11,213.94 L227.65,214.68 L228.89,215.13 L229.45,215.85 L229.26,216.91 L229.97,217.53 L231.11,217.90 L230.88,218.86 L230.00,220.38 L231.90,220.37 L232.48,221.01 L231.97,222.28 L233.69,222.12 L233.61,223.08 L233.13,224.34 L233.57,225.30 L235.26,225.17 L234.91,226.69 L236.28,226.62 L236.31,227.79 L237.23,228.39 L238.30,228.71 L238.83,229.60 L239.64,229.94 L240.51,230.46 L241.32,230.81 L241.90,231.00" fill="none" stroke="#000" stroke-width="1.8" stroke-linejoin="round"/>
<path d="M211.70000000000002,177.4 H213.3 V231 H276.3" fill="none" stroke="#222" stroke-width="1.1"/>
<text x="0" y="0" font-size="3.6" fill="#555" stroke="#555" stroke-width="0.12" font-weight="normal" transform="translate(211.10000000000002,177.8) rotate(-90)" text-anchor="middle">125</text>
<text x="0" y="0" font-size="3.7" fill="#555" stroke="#555" stroke-width="0.15" font-weight="normal" transform="translate(207.3,205.0) rotate(-90)" text-anchor="middle">Events</text>
<text x="210.3" y="232" font-size="3.2" fill="#888" font-weight="normal">0</text>
<text x="212.9" y="235.6" font-size="4.0" fill="#333" stroke="#333" stroke-width="0.12" font-weight="normal" text-anchor="middle">10<tspan font-size="2.4" dy="-1.4">0</tspan></text>
<text x="228.6" y="235.6" font-size="4.0" fill="#333" stroke="#333" stroke-width="0.12" font-weight="normal" text-anchor="middle">10<tspan font-size="2.4" dy="-1.4">1</tspan></text>
<text x="244.3" y="235.6" font-size="4.0" fill="#333" stroke="#333" stroke-width="0.12" font-weight="normal" text-anchor="middle">10<tspan font-size="2.4" dy="-1.4">2</tspan></text>
<text x="260.0" y="235.6" font-size="4.0" fill="#333" stroke="#333" stroke-width="0.12" font-weight="normal" text-anchor="middle">10<tspan font-size="2.4" dy="-1.4">3</tspan></text>
<text x="275.7" y="235.6" font-size="4.0" fill="#333" stroke="#333" stroke-width="0.12" font-weight="normal" text-anchor="middle">10<tspan font-size="2.4" dy="-1.4">4</tspan></text>
<text x="244.3" y="239.7" font-size="3.9" fill="#333" stroke="#333" stroke-width="0.12" font-weight="normal" text-anchor="middle">FL2-H</text>
<line x1="226.5" y1="184.5" x2="276.9" y2="184.5" stroke="#111" stroke-width="1.4"/>
<text x="0" y="0" transform="translate(251.8,182) scale(1,1.08)" font-size="8.2" text-anchor="middle" font-weight="bold" fill="#000" stroke="#000" stroke-width="0.1" >39.64%</text>
<text x="0" y="0" transform="translate(300.2,11.6) scale(1,1.0)" font-size="14" text-anchor="start" font-weight="bold" fill="#000" stroke="#000" stroke-width="0.1" >b</text>
<text x="0" y="0" transform="translate(366.8,24.2) scale(1,1.08)" font-size="9.9" text-anchor="middle" font-weight="bold" fill="#000" stroke="#000" stroke-width="0.1" >PBS</text>
<text x="0" y="0" transform="translate(456.5,24.2) scale(1,1.08)" font-size="9.9" text-anchor="middle" font-weight="bold" fill="#000" stroke="#000" stroke-width="0.1" >Imiquimod</text>
<text x="0" y="0" transform="translate(542.7,24.2) scale(1,1.08)" font-size="9.9" text-anchor="middle" font-weight="bold" fill="#000" stroke="#000" stroke-width="0.1" >Gardiquimod</text>
<text x="0" y="0" transform="translate(296.7,61.4) scale(1,1.08)" font-size="9.6" text-anchor="start" font-weight="bold" fill="#000" stroke="#000" stroke-width="0.1" >CD40</text>
<text x="0" y="0" transform="translate(296,134.5) scale(1,1.08)" font-size="9.6" text-anchor="start" font-weight="bold" fill="#000" stroke="#000" stroke-width="0.1" >CD80</text>
<text x="0" y="0" transform="translate(295.4,201.5) scale(1,1.08)" font-size="9.6" text-anchor="start" font-weight="bold" fill="#000" stroke="#000" stroke-width="0.1" >CD86</text>
<path d="M335.50,89.60 L335.60,89.24 L335.77,88.79 L335.88,88.23 L336.03,87.62 L336.20,86.95 L336.56,86.28 L336.49,85.48 L337.02,84.81 L337.19,84.04 L337.06,83.45 L337.42,82.92 L337.37,82.28 L337.18,81.60 L337.51,81.00 L337.29,80.28 L337.47,79.64 L338.34,79.11 L337.80,78.35 L338.51,77.83 L338.37,77.16 L338.67,76.61 L338.16,75.93 L338.63,75.30 L338.33,74.53 L339.28,74.03 L338.73,73.23 L339.33,72.71 L339.83,72.20 L339.23,71.44 L339.50,70.92 L339.37,70.31 L339.96,69.98 L340.05,69.16 L340.54,68.57 L341.31,68.27 L341.66,67.85 L341.77,67.32 L341.96,66.91 L342.50,67.06 L343.36,66.93 L343.50,68.00 L343.56,68.46 L343.81,68.92 L344.25,69.39 L344.72,69.93 L344.60,70.68 L345.06,71.34 L344.74,72.22 L344.52,73.11 L344.64,73.62 L345.02,74.13 L345.68,74.62 L345.05,75.38 L345.69,75.93 L345.67,76.61 L346.15,77.21 L346.09,77.90 L345.69,78.65 L346.03,79.25 L346.72,79.76 L345.95,80.53 L346.59,80.98 L346.42,81.75 L346.51,82.45 L347.34,82.97 L346.98,83.73 L347.22,84.35 L347.42,84.94 L347.37,85.56 L347.79,86.02 L347.72,86.59 L347.91,87.03 L348.25,87.81 L348.65,88.43 L349.00,88.92 L349.29,89.30 L349.50,89.60 Z" fill="#b4b4b4" stroke="#666" stroke-width="0.6"/>
<path d="M332.00,89.60 C332.33,89.33 333.33,88.93 334.00,88.00 C334.67,87.07 335.42,85.83 336.00,84.00 C336.58,82.17 337.08,79.33 337.50,77.00 C337.92,74.67 338.17,72.50 338.50,70.00 C338.83,67.50 339.17,64.50 339.50,62.00 C339.83,59.50 340.17,56.83 340.50,55.00 C340.83,53.17 341.18,51.88 341.50,51.00 C341.82,50.12 342.10,49.53 342.40,49.70 C342.70,49.87 342.95,50.62 343.30,52.00 C343.65,53.38 344.13,55.67 344.50,58.00 C344.87,60.33 345.17,63.33 345.50,66.00 C345.83,68.67 346.17,71.33 346.50,74.00 C346.83,76.67 347.08,79.83 347.50,82.00 C347.92,84.17 348.42,85.83 349.00,87.00 C349.58,88.17 350.17,88.57 351.00,89.00 C351.83,89.43 353.50,89.50 354.00,89.60 Z" fill="#333" stroke="none" opacity="0.85"/>
<path d="M335.50,89.60 C335.70,88.42 336.25,85.02 336.70,82.50 C337.15,79.98 337.70,76.83 338.20,74.50 C338.70,72.17 339.12,70.00 339.70,68.50 C340.28,67.00 341.12,65.83 341.70,65.50 C342.28,65.17 342.70,65.50 343.20,66.50 C343.70,67.50 344.20,69.33 344.70,71.50 C345.20,73.67 345.70,77.17 346.20,79.50 C346.70,81.83 347.15,83.82 347.70,85.50 C348.25,87.18 349.20,88.92 349.50,89.60 Z" fill="#b4b4b4" stroke="#555" stroke-width="0.6"/>
<path d="M332.00,89.60 L332.54,89.30 L333.26,88.77 L333.94,87.95 L334.32,87.35 L334.89,86.76 L335.34,85.98 L335.37,84.93 L336.53,84.18 L335.69,83.13 L336.75,82.54 L337.22,81.73 L336.89,80.70 L337.24,79.80 L336.39,78.68 L337.46,77.92 L336.66,76.85 L337.09,76.04 L337.46,75.22 L338.01,74.43 L337.19,73.45 L338.19,72.70 L338.18,71.81 L337.97,70.87 L338.63,70.02 L339.55,69.36 L339.39,68.54 L339.46,67.72 L339.70,66.92 L338.56,65.95 L338.37,65.09 L339.69,64.42 L339.93,63.63 L340.15,62.86 L339.15,61.95 L338.96,60.97 L340.16,60.16 L340.52,59.26 L339.71,58.21 L340.38,57.40 L340.48,56.55 L340.89,55.81 L339.77,54.87 L340.67,53.96 L341.86,53.28 L340.90,52.21 L340.79,51.42 L341.26,50.90 L341.99,49.98 L342.42,49.55 L342.45,50.18 L343.38,50.70 L344.22,51.76 L342.68,52.83 L343.53,53.41 L343.71,54.23 L344.53,54.99 L345.13,55.85 L344.93,56.90 L344.28,58.03 L344.92,58.67 L345.22,59.40 L344.95,60.24 L344.99,61.05 L344.83,61.90 L345.11,62.70 L344.97,63.56 L346.01,64.28 L344.65,65.28 L345.13,66.05 L344.97,66.88 L346.00,67.56 L345.68,68.41 L345.39,69.26 L346.10,69.99 L346.66,70.73 L346.39,71.58 L347.21,72.29 L345.83,73.27 L345.87,74.08 L346.48,74.83 L345.95,75.73 L346.59,76.52 L345.96,77.44 L347.76,78.10 L346.07,79.13 L347.29,79.80 L346.81,80.66 L347.79,81.25 L347.56,81.99 L347.73,83.04 L347.86,84.02 L347.89,84.96 L348.77,85.55 L348.95,86.28 L348.81,87.10 L349.51,88.01 L350.19,88.62 L351.02,88.94 L352.04,89.31 L353.19,89.49 L354.00,89.60" fill="none" stroke="#000" stroke-width="1.3" stroke-linejoin="round"/>
<path d="M342.59,49.98 L343.02,49.55 L343.05,50.18 L343.98,50.70 L344.82,51.76 L343.28,52.83 L344.13,53.41 L344.31,54.23 L345.13,54.99 L345.73,55.85 L345.53,56.90 L344.88,58.03 L345.52,58.67 L345.82,59.40 L345.55,60.24 L345.59,61.05 L345.43,61.90 L345.71,62.70 L345.57,63.56 L346.61,64.28 L345.25,65.28 L345.73,66.05 L345.57,66.88 L346.60,67.56 L346.28,68.41 L345.99,69.26 L346.70,69.99 L347.26,70.73 L346.99,71.58 L347.81,72.29 L346.43,73.27 L346.47,74.08 L347.08,74.83 L346.55,75.73 L347.19,76.52 L346.56,77.44 L348.36,78.10 L346.67,79.13 L347.89,79.80 L347.41,80.66 L348.39,81.25 L348.16,81.99 L348.33,83.04 L348.46,84.02 L348.49,84.96 L349.37,85.55 L349.55,86.28 L349.41,87.10 L350.11,88.01 L350.79,88.62 L351.62,88.94 L352.64,89.31 L353.79,89.49 L354.60,89.60" fill="none" stroke="#000" stroke-width="1.0" stroke-linejoin="round"/>
<path d="M330.0,35.4 H331.6 V89.6 H394.6" fill="none" stroke="#222" stroke-width="1.1"/>
<text x="0" y="0" font-size="3.6" fill="#555" stroke="#555" stroke-width="0.12" font-weight="normal" transform="translate(329.40000000000003,35.8) rotate(-90)" text-anchor="middle">20</text>
<text x="0" y="0" font-size="3.7" fill="#555" stroke="#555" stroke-width="0.15" font-weight="normal" transform="translate(325.6,63.3) rotate(-90)" text-anchor="middle">Events</text>
<text x="328.6" y="90.6" font-size="3.2" fill="#888" font-weight="normal">0</text>
<text x="332.8" y="94.19999999999999" font-size="4.0" fill="#333" stroke="#333" stroke-width="0.12" font-weight="normal" text-anchor="middle">10<tspan font-size="2.4" dy="-1.4">0</tspan></text>
<text x="348.2" y="94.19999999999999" font-size="4.0" fill="#333" stroke="#333" stroke-width="0.12" font-weight="normal" text-anchor="middle">10<tspan font-size="2.4" dy="-1.4">1</tspan></text>
<text x="363.6" y="94.19999999999999" font-size="4.0" fill="#333" stroke="#333" stroke-width="0.12" font-weight="normal" text-anchor="middle">10<tspan font-size="2.4" dy="-1.4">2</tspan></text>
<text x="379.0" y="94.19999999999999" font-size="4.0" fill="#333" stroke="#333" stroke-width="0.12" font-weight="normal" text-anchor="middle">10<tspan font-size="2.4" dy="-1.4">3</tspan></text>
<text x="394.40000000000003" y="94.19999999999999" font-size="4.0" fill="#333" stroke="#333" stroke-width="0.12" font-weight="normal" text-anchor="middle">10<tspan font-size="2.4" dy="-1.4">4</tspan></text>
<text x="362.6" y="98.8" font-size="3.9" fill="#333" stroke="#333" stroke-width="0.12" font-weight="normal" text-anchor="middle">FL1-H</text>
<line x1="348" y1="40.5" x2="394.6" y2="40.5" stroke="#111" stroke-width="1.4"/>
<text x="0" y="0" transform="translate(371.5,37.9) scale(1,1.08)" font-size="8.2" text-anchor="middle" font-weight="bold" fill="#000" stroke="#000" stroke-width="0.1" >3.39%</text>
<path d="M421.50,89.60 L421.57,89.26 L421.68,88.88 L421.82,88.44 L421.91,87.95 L422.11,87.42 L422.10,86.79 L422.19,86.13 L422.27,85.41 L422.62,84.68 L422.84,83.86 L423.01,82.98 L423.39,82.06 L423.39,81.57 L423.51,81.08 L422.81,80.45 L423.34,79.95 L423.48,79.38 L423.84,78.81 L423.09,78.09 L423.84,77.53 L423.46,76.83 L424.12,76.23 L423.35,75.46 L423.44,74.79 L423.90,74.15 L424.12,73.48 L423.67,72.73 L424.19,72.10 L424.35,71.43 L424.70,70.80 L424.15,70.07 L424.43,69.45 L424.80,68.86 L424.34,68.17 L424.32,67.56 L424.66,67.03 L425.11,66.55 L425.00,66.00 L425.52,65.31 L425.50,64.55 L425.49,63.80 L426.04,63.18 L425.82,62.42 L425.87,61.73 L425.72,61.02 L426.53,60.56 L426.69,59.96 L426.03,59.17 L426.32,58.66 L426.33,58.09 L426.86,57.70 L426.67,57.12 L427.56,56.92 L427.25,56.35 L427.92,56.18 L427.71,54.80 L428.09,53.97 L428.93,53.86 L429.21,53.36 L429.68,53.61 L430.37,53.41 L430.80,54.11 L431.05,54.86 L431.49,54.98 L432.13,54.74 L431.77,53.68 L432.75,53.05 L433.06,52.48 L432.98,51.85 L433.22,52.19 L433.16,52.72 L434.15,52.60 L433.72,53.54 L434.05,54.21 L435.02,54.85 L434.92,56.02 L435.19,56.40 L435.06,56.90 L434.93,57.42 L435.13,57.91 L435.63,58.37 L435.54,58.96 L435.73,59.52 L435.94,60.10 L436.22,60.69 L435.93,61.39 L435.80,62.06 L436.69,62.60 L436.63,63.28 L436.71,63.95 L436.11,64.73 L436.20,65.40 L436.32,66.07 L437.11,66.64 L436.47,67.41 L436.52,68.07 L436.76,68.62 L437.12,69.17 L436.95,69.82 L437.02,70.44 L437.17,71.06 L437.29,71.70 L437.12,72.39 L437.47,73.00 L437.50,73.67 L437.41,74.35 L438.06,74.93 L438.31,75.57 L437.66,76.31 L438.47,76.86 L438.14,77.55 L438.02,78.20 L438.06,78.81 L438.85,79.30 L438.70,79.91 L438.84,80.46 L438.70,81.03 L438.45,81.60 L438.89,82.02 L438.96,82.86 L439.36,83.59 L439.56,84.33 L439.66,85.07 L440.08,85.68 L439.86,86.42 L440.34,86.93 L440.46,87.49 L440.58,88.02 L440.62,88.51 L440.78,88.92 L440.91,89.28 L441.00,89.60 Z" fill="#b4b4b4" stroke="#666" stroke-width="0.6"/>
<path d="M422.50,89.60 L422.80,89.17 L423.23,88.64 L423.40,87.77 L424.21,87.12 L424.81,86.21 L425.16,85.07 L425.83,84.60 L425.55,83.71 L426.31,83.20 L426.86,82.55 L426.59,81.57 L426.24,80.54 L427.35,79.96 L427.65,79.07 L426.65,77.76 L428.30,77.17 L427.27,75.82 L427.43,75.14 L428.08,74.51 L429.01,73.88 L429.42,73.11 L428.24,72.03 L428.01,71.11 L430.06,70.56 L428.29,69.35 L428.66,68.50 L429.47,67.72 L429.96,66.89 L429.98,66.00 L429.67,65.08 L429.96,64.27 L430.32,63.51 L429.57,62.58 L429.80,61.87 L430.23,60.92 L431.19,60.06 L430.65,58.95 L432.19,58.24 L431.00,57.05 L431.19,56.15 L431.44,55.31 L431.97,54.58 L431.91,53.78 L431.84,53.05 L433.24,52.75 L432.84,52.13 L432.83,50.14 L433.77,50.51 L434.49,50.56 L434.89,51.50 L436.43,52.65 L434.98,53.76 L435.87,54.19 L436.96,54.65 L435.30,55.85 L437.10,56.27 L435.78,57.45 L436.50,58.22 L436.65,59.14 L437.10,60.04 L438.30,60.82 L437.08,62.08 L437.62,62.71 L437.06,63.57 L436.90,64.40 L437.30,65.17 L438.19,65.89 L438.52,66.72 L438.97,67.54 L437.86,68.59 L438.72,69.36 L437.87,70.37 L439.19,71.05 L439.15,71.91 L439.72,72.66 L439.22,73.54 L439.64,74.24 L440.01,74.91 L438.94,76.12 L438.92,77.12 L439.18,78.03 L441.01,78.60 L439.97,79.70 L440.74,80.40 L440.92,81.18 L441.24,81.90 L441.29,82.64 L441.99,83.16 L440.85,84.22 L441.87,85.05 L442.47,85.86 L442.65,86.73 L442.90,87.51 L443.49,88.00 L443.97,88.54 L444.74,89.02 L445.69,89.22 L446.62,89.41 L447.43,89.49 L448.00,89.60" fill="none" stroke="#000" stroke-width="1.3" stroke-linejoin="round"/>
<path d="M434.37,50.51 L435.09,50.56 L435.49,51.50 L437.03,52.65 L435.58,53.76 L436.47,54.19 L437.56,54.65 L435.90,55.85 L437.70,56.27 L436.38,57.45 L437.10,58.22 L437.25,59.14 L437.70,60.04 L438.90,60.82 L437.68,62.08 L438.22,62.71 L437.66,63.57 L437.50,64.40 L437.90,65.17 L438.79,65.89 L439.12,66.72 L439.57,67.54 L438.46,68.59 L439.32,69.36 L438.47,70.37 L439.79,71.05 L439.75,71.91 L440.32,72.66 L439.82,73.54 L440.24,74.24 L440.61,74.91 L439.54,76.12 L439.52,77.12 L439.78,78.03 L441.61,78.60 L440.57,79.70 L441.34,80.40 L441.52,81.18 L441.84,81.90 L441.89,82.64 L442.59,83.16 L441.45,84.22 L442.47,85.05 L443.07,85.86 L443.25,86.73 L443.50,87.51 L444.09,88.00 L444.57,88.54 L445.34,89.02 L446.29,89.22 L447.22,89.41 L448.03,89.49 L448.60,89.60" fill="none" stroke="#000" stroke-width="1.0" stroke-linejoin="round"/>
<path d="M418.5,35.4 H420.1 V89.6 H483.1" fill="none" stroke="#222" stroke-width="1.1"/>
<text x="0" y="0" font-size="3.6" fill="#555" stroke="#555" stroke-width="0.12" font-weight="normal" transform="translate(417.90000000000003,35.8) rotate(-90)" text-anchor="middle">20</text>
<text x="0" y="0" font-size="3.7" fill="#555" stroke="#555" stroke-width="0.15" font-weight="normal" transform="translate(414.1,63.3) rotate(-90)" text-anchor="middle">Events</text>
<text x="417.1" y="90.6" font-size="3.2" fill="#888" font-weight="normal">0</text>
<text x="421.3" y="94.19999999999999" font-size="4.0" fill="#333" stroke="#333" stroke-width="0.12" font-weight="normal" text-anchor="middle">10<tspan font-size="2.4" dy="-1.4">0</tspan></text>
<text x="436.7" y="94.19999999999999" font-size="4.0" fill="#333" stroke="#333" stroke-width="0.12" font-weight="normal" text-anchor="middle">10<tspan font-size="2.4" dy="-1.4">1</tspan></text>
<text x="452.1" y="94.19999999999999" font-size="4.0" fill="#333" stroke="#333" stroke-width="0.12" font-weight="normal" text-anchor="middle">10<tspan font-size="2.4" dy="-1.4">2</tspan></text>
<text x="467.5" y="94.19999999999999" font-size="4.0" fill="#333" stroke="#333" stroke-width="0.12" font-weight="normal" text-anchor="middle">10<tspan font-size="2.4" dy="-1.4">3</tspan></text>
<text x="482.90000000000003" y="94.19999999999999" font-size="4.0" fill="#333" stroke="#333" stroke-width="0.12" font-weight="normal" text-anchor="middle">10<tspan font-size="2.4" dy="-1.4">4</tspan></text>
<text x="451.1" y="98.8" font-size="3.9" fill="#333" stroke="#333" stroke-width="0.12" font-weight="normal" text-anchor="middle">FL1-H</text>
<line x1="438" y1="40.5" x2="484.6" y2="40.5" stroke="#111" stroke-width="1.4"/>
<text x="0" y="0" transform="translate(460.8,37.7) scale(1,1.08)" font-size="8.2" text-anchor="middle" font-weight="bold" fill="#000" stroke="#000" stroke-width="0.1" >14.58%</text>
<path d="M511.00,89.60 L511.07,89.27 L511.14,88.89 L511.25,88.48 L511.45,88.03 L511.47,87.49 L511.52,86.90 L511.66,86.27 L511.66,85.54 L512.20,84.84 L512.20,83.96 L512.28,83.01 L512.52,82.00 L512.77,81.58 L513.01,81.13 L512.44,80.56 L513.08,80.10 L512.40,79.46 L513.22,78.98 L513.10,78.36 L512.52,77.69 L512.63,77.07 L512.84,76.44 L513.41,75.85 L513.21,75.16 L513.33,74.50 L513.50,73.84 L512.99,73.10 L513.87,72.51 L513.95,71.83 L513.95,71.15 L513.69,70.45 L514.07,69.82 L513.91,69.14 L513.88,68.49 L514.48,67.92 L513.81,67.22 L513.83,66.62 L514.20,66.08 L513.88,65.47 L513.94,64.93 L514.29,64.46 L514.88,64.05 L514.77,63.16 L514.41,62.26 L515.22,61.56 L515.44,60.81 L515.47,60.05 L515.29,59.29 L515.11,58.55 L515.65,57.99 L515.23,57.26 L516.17,56.85 L516.09,56.27 L516.46,55.82 L516.41,55.30 L516.60,54.88 L516.47,54.40 L516.39,53.94 L516.93,52.60 L517.86,52.95 L518.52,52.49 L519.04,53.16 L519.58,53.40 L520.18,54.22 L520.35,54.56 L521.14,54.69 L520.93,55.34 L521.04,55.87 L521.76,56.24 L521.42,57.03 L521.89,57.61 L522.52,58.23 L522.53,59.08 L522.91,59.91 L522.77,60.43 L522.64,60.97 L522.42,61.55 L523.15,61.97 L522.88,62.60 L523.02,63.17 L522.85,63.81 L523.75,64.30 L523.79,64.93 L523.57,65.61 L523.86,66.23 L523.68,66.92 L524.21,67.50 L523.60,68.26 L524.42,68.79 L524.34,69.47 L524.22,70.14 L523.92,70.83 L524.61,71.36 L524.09,72.07 L524.68,72.60 L524.52,73.26 L524.56,73.90 L524.96,74.49 L525.24,75.11 L524.90,75.84 L524.74,76.53 L525.24,77.12 L525.61,77.73 L525.31,78.44 L525.32,79.09 L525.41,79.71 L525.74,80.29 L525.86,80.88 L525.61,81.52 L525.68,82.09 L526.07,82.57 L526.50,83.03 L526.76,83.48 L526.32,84.04 L526.47,84.98 L526.87,85.79 L527.26,86.50 L527.33,87.22 L527.44,87.85 L527.66,88.38 L527.73,88.87 L527.90,89.26 L528.00,89.60 Z" fill="#b4b4b4" stroke="#666" stroke-width="0.6"/>
<path d="M512.20,89.60 L512.59,89.18 L513.15,88.62 L513.60,87.75 L514.18,86.86 L514.94,85.97 L515.53,85.50 L515.88,84.86 L516.62,84.37 L516.15,83.25 L516.78,82.61 L516.99,81.74 L518.30,81.23 L517.92,80.05 L518.63,79.19 L517.35,78.09 L518.78,77.70 L519.19,76.96 L518.25,75.89 L518.64,75.09 L519.30,74.34 L519.65,73.51 L518.82,72.44 L520.02,71.80 L519.92,70.91 L519.56,70.00 L521.14,69.56 L519.82,68.52 L520.36,67.96 L520.24,66.67 L521.68,65.94 L522.10,65.03 L522.13,64.11 L522.55,63.41 L523.10,62.90 L521.93,61.66 L522.83,60.56 L523.77,61.20 L523.87,61.95 L524.12,62.22 L525.54,62.98 L526.37,63.39 L526.33,64.10 L525.91,64.95 L526.66,65.66 L525.59,66.70 L525.34,67.65 L526.91,68.36 L527.15,69.27 L527.12,70.20 L526.81,71.16 L527.37,71.93 L526.47,72.97 L527.17,73.72 L528.19,74.42 L528.28,75.32 L527.70,76.35 L527.35,77.34 L527.32,78.23 L529.19,78.66 L527.74,79.83 L528.60,80.39 L528.78,81.06 L529.92,81.91 L529.08,83.24 L529.71,83.99 L530.81,84.41 L530.43,85.46 L531.07,85.95 L531.48,86.99 L532.24,87.66 L533.11,88.10 L533.99,88.53 L534.81,88.79 L535.73,89.04 L536.64,89.32 L537.44,89.48 L538.00,89.60" fill="none" stroke="#000" stroke-width="1.3" stroke-linejoin="round"/>
<path d="M524.37,61.20 L524.47,61.95 L524.72,62.22 L526.14,62.98 L526.97,63.39 L526.93,64.10 L526.51,64.95 L527.26,65.66 L526.19,66.70 L525.94,67.65 L527.51,68.36 L527.75,69.27 L527.72,70.20 L527.41,71.16 L527.97,71.93 L527.07,72.97 L527.77,73.72 L528.79,74.42 L528.88,75.32 L528.30,76.35 L527.95,77.34 L527.92,78.23 L529.79,78.66 L528.34,79.83 L529.20,80.39 L529.38,81.06 L530.52,81.91 L529.68,83.24 L530.31,83.99 L531.41,84.41 L531.03,85.46 L531.67,85.95 L532.08,86.99 L532.84,87.66 L533.71,88.10 L534.59,88.53 L535.41,88.79 L536.33,89.04 L537.24,89.32 L538.04,89.48 L538.60,89.60" fill="none" stroke="#000" stroke-width="1.0" stroke-linejoin="round"/>
<path d="M508.2,35.4 H509.8 V89.6 H572.8" fill="none" stroke="#222" stroke-width="1.1"/>
<text x="0" y="0" font-size="3.6" fill="#555" stroke="#555" stroke-width="0.12" font-weight="normal" transform="translate(507.6,35.8) rotate(-90)" text-anchor="middle">20</text>
<text x="0" y="0" font-size="3.7" fill="#555" stroke="#555" stroke-width="0.15" font-weight="normal" transform="translate(503.8,63.3) rotate(-90)" text-anchor="middle">Events</text>
<text x="506.8" y="90.6" font-size="3.2" fill="#888" font-weight="normal">0</text>
<text x="511.0" y="94.19999999999999" font-size="4.0" fill="#333" stroke="#333" stroke-width="0.12" font-weight="normal" text-anchor="middle">10<tspan font-size="2.4" dy="-1.4">0</tspan></text>
<text x="526.4" y="94.19999999999999" font-size="4.0" fill="#333" stroke="#333" stroke-width="0.12" font-weight="normal" text-anchor="middle">10<tspan font-size="2.4" dy="-1.4">1</tspan></text>
<text x="541.8" y="94.19999999999999" font-size="4.0" fill="#333" stroke="#333" stroke-width="0.12" font-weight="normal" text-anchor="middle">10<tspan font-size="2.4" dy="-1.4">2</tspan></text>
<text x="557.2" y="94.19999999999999" font-size="4.0" fill="#333" stroke="#333" stroke-width="0.12" font-weight="normal" text-anchor="middle">10<tspan font-size="2.4" dy="-1.4">3</tspan></text>
<text x="572.6" y="94.19999999999999" font-size="4.0" fill="#333" stroke="#333" stroke-width="0.12" font-weight="normal" text-anchor="middle">10<tspan font-size="2.4" dy="-1.4">4</tspan></text>
<text x="540.8" y="98.8" font-size="3.9" fill="#333" stroke="#333" stroke-width="0.12" font-weight="normal" text-anchor="middle">FL1-H</text>
<line x1="526.2" y1="40.3" x2="572.3" y2="40.3" stroke="#111" stroke-width="1.4"/>
<text x="0" y="0" transform="translate(549.1,37.7) scale(1,1.08)" font-size="8.2" text-anchor="middle" font-weight="bold" fill="#000" stroke="#000" stroke-width="0.1" >22.29%</text>
<path d="M333.50,159.20 L333.56,158.86 L333.67,158.46 L333.71,158.00 L333.78,157.49 L333.87,156.94 L334.12,156.38 L334.01,155.72 L334.42,155.12 L334.54,154.44 L334.45,153.71 L334.81,153.04 L334.79,152.29 L334.62,151.51 L334.95,150.81 L334.74,150.03 L334.93,149.33 L335.80,148.75 L335.26,147.96 L335.96,147.47 L335.79,146.82 L336.08,146.23 L335.54,145.50 L335.97,144.90 L335.62,144.17 L336.53,143.63 L335.93,142.86 L336.50,142.26 L336.95,141.64 L336.29,140.86 L336.50,140.22 L336.29,139.52 L336.83,138.95 L336.68,138.29 L336.94,137.70 L337.52,137.19 L337.63,136.62 L337.45,136.03 L337.32,135.47 L337.67,135.03 L337.21,134.04 L337.80,133.28 L338.07,132.51 L338.14,131.77 L338.00,131.03 L337.84,130.33 L338.28,129.80 L338.15,129.19 L338.79,128.84 L339.32,128.55 L339.41,128.26 L339.74,127.37 L340.28,126.74 L340.83,127.61 L341.50,127.17 L341.97,127.62 L342.81,128.34 L342.79,128.83 L342.43,129.41 L342.78,129.81 L343.47,130.19 L342.72,130.95 L343.38,131.43 L343.19,132.13 L343.24,132.83 L344.18,133.38 L343.68,134.25 L343.95,135.01 L344.13,135.50 L343.84,136.11 L344.50,136.57 L344.06,137.26 L344.24,137.86 L344.29,138.50 L344.54,139.12 L344.72,139.77 L344.86,140.43 L344.91,141.10 L344.97,141.77 L345.11,142.43 L345.42,143.04 L345.93,143.60 L346.07,144.21 L345.63,144.91 L346.00,145.43 L346.05,145.99 L346.60,146.63 L346.74,147.33 L346.89,148.01 L346.17,148.87 L346.62,149.45 L346.82,150.07 L347.44,150.57 L347.48,151.19 L347.47,151.81 L347.11,152.52 L347.67,152.95 L347.94,153.45 L347.78,154.08 L348.53,154.63 L348.59,155.44 L348.82,156.18 L349.34,156.75 L349.56,157.42 L349.85,157.99 L350.16,158.46 L350.44,158.86 L350.60,159.20 Z" fill="#b4b4b4" stroke="#666" stroke-width="0.6"/>
<path d="M333.50,159.20 L333.72,158.76 L333.89,158.15 L334.07,157.42 L334.64,156.74 L334.80,155.81 L335.14,154.89 L336.28,154.21 L336.33,153.10 L336.16,152.28 L335.83,151.38 L336.01,150.59 L335.92,149.69 L336.72,148.97 L337.31,148.19 L337.72,147.35 L338.18,146.52 L338.20,145.60 L337.83,144.59 L338.85,143.95 L337.66,142.78 L338.55,142.08 L338.61,141.15 L339.78,140.49 L338.69,139.26 L340.04,138.66 L339.78,137.67 L339.91,136.81 L340.13,136.01 L341.05,135.47 L340.68,134.59 L340.83,133.93 L342.00,132.97 L342.52,131.90 L343.28,131.29 L342.84,129.83 L343.69,129.58 L344.67,129.80 L343.69,131.25 L343.69,132.12 L344.44,132.95 L345.91,133.72 L345.27,135.06 L345.66,135.68 L346.17,136.33 L345.99,137.17 L345.72,138.04 L345.92,138.86 L346.74,139.59 L347.03,140.42 L345.71,141.52 L347.64,142.03 L346.50,143.11 L346.68,143.92 L347.06,144.70 L347.91,145.38 L348.59,146.09 L348.75,146.93 L347.32,148.16 L348.13,148.82 L348.32,149.60 L349.71,150.03 L348.62,151.11 L348.88,152.11 L349.56,152.97 L349.40,154.05 L349.98,154.86 L350.26,155.68 L350.72,156.36 L351.22,156.87 L351.79,158.05 L352.51,158.74 L353.00,159.20" fill="none" stroke="#000" stroke-width="1.3" stroke-linejoin="round"/>
<path d="M343.88,131.29 L344.29,129.58 L345.27,129.80 L344.29,131.25 L344.29,132.12 L345.04,132.95 L346.51,133.72 L345.87,135.06 L346.26,135.68 L346.77,136.33 L346.59,137.17 L346.32,138.04 L346.52,138.86 L347.34,139.59 L347.63,140.42 L346.31,141.52 L348.24,142.03 L347.10,143.11 L347.28,143.92 L347.66,144.70 L348.51,145.38 L349.19,146.09 L349.35,146.93 L347.92,148.16 L348.73,148.82 L348.92,149.60 L350.31,150.03 L349.22,151.11 L349.48,152.11 L350.16,152.97 L350.00,154.05 L350.58,154.86 L350.86,155.68 L351.32,156.36 L351.82,156.87 L352.39,158.05 L353.11,158.74 L353.60,159.20" fill="none" stroke="#000" stroke-width="1.0" stroke-linejoin="round"/>
<path d="M329.9,107.30000000000001 H331.5 V159.2 H394.5" fill="none" stroke="#222" stroke-width="1.1"/>
<text x="0" y="0" font-size="3.6" fill="#555" stroke="#555" stroke-width="0.12" font-weight="normal" transform="translate(329.3,107.7) rotate(-90)" text-anchor="middle">20</text>
<text x="0" y="0" font-size="3.7" fill="#555" stroke="#555" stroke-width="0.15" font-weight="normal" transform="translate(325.5,134.05) rotate(-90)" text-anchor="middle">Events</text>
<text x="328.5" y="160.2" font-size="3.2" fill="#888" font-weight="normal">0</text>
<text x="332.7" y="163.79999999999998" font-size="4.0" fill="#333" stroke="#333" stroke-width="0.12" font-weight="normal" text-anchor="middle">10<tspan font-size="2.4" dy="-1.4">0</tspan></text>
<text x="348.09999999999997" y="163.79999999999998" font-size="4.0" fill="#333" stroke="#333" stroke-width="0.12" font-weight="normal" text-anchor="middle">10<tspan font-size="2.4" dy="-1.4">1</tspan></text>
<text x="363.5" y="163.79999999999998" font-size="4.0" fill="#333" stroke="#333" stroke-width="0.12" font-weight="normal" text-anchor="middle">10<tspan font-size="2.4" dy="-1.4">2</tspan></text>
<text x="378.9" y="163.79999999999998" font-size="4.0" fill="#333" stroke="#333" stroke-width="0.12" font-weight="normal" text-anchor="middle">10<tspan font-size="2.4" dy="-1.4">3</tspan></text>
<text x="394.3" y="163.79999999999998" font-size="4.0" fill="#333" stroke="#333" stroke-width="0.12" font-weight="normal" text-anchor="middle">10<tspan font-size="2.4" dy="-1.4">4</tspan></text>
<text x="362.5" y="168.39999999999998" font-size="3.9" fill="#333" stroke="#333" stroke-width="0.12" font-weight="normal" text-anchor="middle">FL1-H</text>
<line x1="348.5" y1="112.3" x2="394.6" y2="112.3" stroke="#111" stroke-width="1.4"/>
<text x="0" y="0" transform="translate(372.5,109.7) scale(1,1.08)" font-size="8.2" text-anchor="middle" font-weight="bold" fill="#000" stroke="#000" stroke-width="0.1" >17.64%</text>
<path d="M422.00,159.20 L422.06,158.86 L422.16,158.46 L422.28,158.01 L422.35,157.51 L422.53,156.97 L422.49,156.36 L422.55,155.73 L422.61,155.06 L422.93,154.42 L423.13,153.74 L423.28,153.03 L423.61,152.34 L423.69,151.61 L423.89,150.89 L423.25,150.03 L423.84,149.40 L424.02,148.71 L424.42,148.07 L423.70,147.35 L424.47,146.85 L424.12,146.17 L424.79,145.62 L424.05,144.86 L424.15,144.21 L424.63,143.61 L424.86,142.97 L424.43,142.23 L424.97,141.63 L425.14,140.98 L425.51,140.37 L424.97,139.63 L425.27,139.02 L425.65,138.44 L425.20,137.74 L425.19,137.12 L425.55,136.58 L426.01,136.08 L425.90,135.51 L426.39,135.07 L426.37,134.25 L426.37,133.45 L426.92,132.78 L426.69,132.00 L426.73,131.29 L426.56,130.57 L427.37,130.10 L427.52,129.52 L426.87,128.74 L427.16,128.24 L427.19,127.69 L427.75,127.38 L427.64,126.79 L428.76,126.48 L428.96,125.62 L429.83,125.72 L430.10,124.79 L430.66,124.52 L431.20,125.00 L431.79,124.74 L432.03,125.28 L432.82,125.64 L433.18,126.94 L433.06,127.40 L433.23,127.82 L432.98,128.39 L433.78,128.76 L433.17,129.46 L433.22,130.06 L433.94,130.56 L433.83,131.24 L433.53,131.97 L434.52,132.49 L433.82,133.31 L433.98,133.99 L434.79,134.57 L434.50,135.33 L434.78,135.99 L434.66,136.71 L434.53,137.41 L434.73,138.04 L435.22,138.56 L435.11,139.18 L435.28,139.77 L435.47,140.36 L435.72,140.96 L435.40,141.62 L435.24,142.27 L436.10,142.81 L436.01,143.45 L436.06,144.08 L435.42,144.78 L435.48,145.40 L435.57,146.01 L436.34,146.54 L435.66,147.23 L435.69,147.83 L435.92,148.39 L436.27,148.92 L436.10,149.51 L436.17,150.06 L436.37,150.76 L436.55,151.48 L436.49,152.26 L436.90,152.93 L437.04,153.66 L437.12,154.39 L437.62,155.00 L437.84,155.65 L437.72,156.36 L438.10,156.90 L438.14,157.49 L438.25,158.01 L438.38,158.46 L438.53,158.86 L438.60,159.20 Z" fill="#b4b4b4" stroke="#666" stroke-width="0.6"/>
<path d="M423.50,159.20 L423.71,158.73 L423.89,158.09 L424.39,157.46 L424.86,156.70 L425.36,155.88 L425.61,154.91 L425.14,153.61 L425.88,152.82 L426.55,152.02 L427.28,151.51 L426.38,150.32 L426.60,149.54 L427.52,149.01 L428.19,148.37 L428.84,147.71 L428.84,146.81 L428.56,145.81 L429.33,145.22 L429.78,144.54 L429.61,143.64 L430.42,143.17 L430.96,142.35 L429.85,140.88 L431.64,140.57 L430.78,139.24 L431.22,138.46 L432.44,138.07 L431.60,136.82 L431.83,136.10 L433.26,136.17 L433.92,135.19 L434.70,134.73 L435.01,133.95 L435.73,133.26 L436.32,133.95 L437.35,134.30 L436.77,135.80 L438.01,136.83 L438.63,137.34 L437.58,138.36 L438.27,139.00 L438.45,139.83 L437.60,140.92 L437.91,141.78 L438.31,142.65 L438.71,143.51 L438.91,144.39 L439.08,145.25 L439.86,145.92 L439.50,146.90 L440.51,147.57 L440.51,148.47 L439.56,149.56 L440.03,150.33 L440.36,151.11 L440.13,152.02 L441.34,152.50 L441.84,153.12 L441.46,154.01 L441.63,155.07 L442.50,155.78 L442.92,156.69 L443.53,157.42 L443.84,158.23 L444.29,158.77 L444.60,159.20" fill="none" stroke="#000" stroke-width="1.3" stroke-linejoin="round"/>
<path d="M436.33,133.26 L436.92,133.95 L437.95,134.30 L437.37,135.80 L438.61,136.83 L439.23,137.34 L438.18,138.36 L438.87,139.00 L439.05,139.83 L438.20,140.92 L438.51,141.78 L438.91,142.65 L439.31,143.51 L439.51,144.39 L439.68,145.25 L440.46,145.92 L440.10,146.90 L441.11,147.57 L441.11,148.47 L440.16,149.56 L440.63,150.33 L440.96,151.11 L440.73,152.02 L441.94,152.50 L442.44,153.12 L442.06,154.01 L442.23,155.07 L443.10,155.78 L443.52,156.69 L444.13,157.42 L444.44,158.23 L444.89,158.77 L445.20,159.20" fill="none" stroke="#000" stroke-width="1.0" stroke-linejoin="round"/>
<path d="M418.59999999999997,107.30000000000001 H420.2 V159.2 H483.2" fill="none" stroke="#222" stroke-width="1.1"/>
<text x="0" y="0" font-size="3.6" fill="#555" stroke="#555" stroke-width="0.12" font-weight="normal" transform="translate(418.0,107.7) rotate(-90)" text-anchor="middle">20</text>
<text x="0" y="0" font-size="3.7" fill="#555" stroke="#555" stroke-width="0.15" font-weight="normal" transform="translate(414.2,134.05) rotate(-90)" text-anchor="middle">Events</text>
<text x="417.2" y="160.2" font-size="3.2" fill="#888" font-weight="normal">0</text>
<text x="421.4" y="163.79999999999998" font-size="4.0" fill="#333" stroke="#333" stroke-width="0.12" font-weight="normal" text-anchor="middle">10<tspan font-size="2.4" dy="-1.4">0</tspan></text>
<text x="436.79999999999995" y="163.79999999999998" font-size="4.0" fill="#333" stroke="#333" stroke-width="0.12" font-weight="normal" text-anchor="middle">10<tspan font-size="2.4" dy="-1.4">1</tspan></text>
<text x="452.2" y="163.79999999999998" font-size="4.0" fill="#333" stroke="#333" stroke-width="0.12" font-weight="normal" text-anchor="middle">10<tspan font-size="2.4" dy="-1.4">2</tspan></text>
<text x="467.59999999999997" y="163.79999999999998" font-size="4.0" fill="#333" stroke="#333" stroke-width="0.12" font-weight="normal" text-anchor="middle">10<tspan font-size="2.4" dy="-1.4">3</tspan></text>
<text x="483.0" y="163.79999999999998" font-size="4.0" fill="#333" stroke="#333" stroke-width="0.12" font-weight="normal" text-anchor="middle">10<tspan font-size="2.4" dy="-1.4">4</tspan></text>
<text x="451.2" y="168.39999999999998" font-size="3.9" fill="#333" stroke="#333" stroke-width="0.12" font-weight="normal" text-anchor="middle">FL1-H</text>
<line x1="437.8" y1="109.5" x2="484.1" y2="109.5" stroke="#111" stroke-width="1.4"/>
<text x="0" y="0" transform="translate(460,107.2) scale(1,1.08)" font-size="8.2" text-anchor="middle" font-weight="bold" fill="#000" stroke="#000" stroke-width="0.1" >27.76%</text>
<path d="M511.50,159.20 L511.56,158.86 L511.62,158.45 L511.70,157.99 L511.90,157.50 L511.88,156.92 L511.90,156.30 L512.02,155.67 L512.00,154.99 L512.52,154.38 L512.50,153.65 L512.56,152.92 L512.78,152.21 L513.09,151.52 L513.40,150.83 L512.91,150.00 L513.60,149.40 L512.99,148.59 L513.85,148.06 L513.76,147.44 L513.23,146.74 L513.37,146.14 L513.61,145.54 L514.21,145.00 L514.05,144.32 L514.19,143.70 L514.40,143.08 L513.93,142.36 L514.83,141.85 L514.94,141.23 L514.97,140.59 L514.75,139.93 L515.15,139.37 L515.02,138.74 L515.02,138.14 L515.66,137.67 L515.02,136.99 L515.07,136.45 L515.47,135.99 L515.24,135.15 L515.39,134.39 L515.81,133.70 L516.48,133.09 L516.41,132.34 L516.08,131.55 L516.90,131.06 L517.15,130.48 L517.21,129.89 L517.06,129.28 L516.92,128.70 L517.48,128.43 L517.17,127.77 L518.47,127.46 L518.97,127.23 L519.59,127.66 L520.08,127.58 L520.39,127.77 L520.96,128.04 L521.62,128.95 L521.94,129.29 L521.43,129.92 L522.09,130.25 L521.62,130.93 L521.79,131.48 L521.90,132.07 L522.03,132.69 L522.81,133.20 L522.51,133.95 L522.55,134.64 L523.23,135.22 L522.81,136.01 L523.22,136.65 L523.79,137.24 L523.73,137.95 L524.02,138.48 L523.89,139.11 L523.76,139.74 L523.54,140.39 L524.28,140.89 L524.01,141.57 L524.15,142.18 L523.98,142.85 L524.88,143.35 L524.93,143.99 L524.71,144.68 L525.01,145.27 L524.85,145.95 L525.39,146.49 L524.80,147.25 L525.65,147.71 L525.60,148.35 L525.52,149.00 L525.28,149.73 L526.04,150.24 L525.62,151.09 L526.29,151.65 L526.28,152.41 L526.46,153.13 L526.89,153.75 L527.20,154.41 L527.17,155.15 L527.29,155.83 L527.66,156.40 L527.93,156.96 L528.01,157.53 L528.18,158.03 L528.34,158.48 L528.49,158.87 L528.60,159.20 Z" fill="#b4b4b4" stroke="#666" stroke-width="0.6"/>
<path d="M512.00,159.20 L512.23,158.73 L512.46,158.09 L513.00,157.45 L513.53,156.71 L513.77,155.74 L514.43,154.94 L514.55,153.88 L514.84,152.93 L515.32,152.30 L515.33,151.45 L516.64,151.12 L517.04,150.40 L516.31,149.23 L517.25,148.67 L517.66,147.88 L516.71,146.58 L518.62,146.23 L518.84,145.26 L518.17,144.27 L517.86,143.35 L518.60,142.67 L518.00,141.59 L518.97,140.89 L518.38,139.80 L519.47,139.11 L520.24,138.36 L520.02,137.40 L520.34,136.62 L520.30,135.79 L520.22,135.01 L520.60,134.44 L520.44,133.71 L521.85,133.01 L521.95,131.67 L523.21,133.11 L523.07,131.53 L524.27,131.10 L524.64,129.74 L525.53,130.28 L526.16,130.34 L526.01,131.15 L526.04,131.99 L527.19,132.64 L527.10,133.75 L527.35,134.84 L526.99,136.12 L527.81,136.66 L528.60,137.28 L527.17,138.40 L528.67,138.97 L528.35,139.92 L529.42,140.63 L527.78,141.86 L529.78,142.41 L528.93,143.49 L528.29,144.52 L529.71,145.11 L528.94,146.11 L530.50,146.71 L528.97,147.94 L529.28,148.80 L530.17,149.56 L530.24,150.46 L531.48,151.10 L530.29,152.22 L530.59,153.00 L531.59,153.55 L531.58,154.29 L531.10,155.14 L531.81,156.07 L532.37,156.91 L532.73,157.73 L533.31,158.25 L533.62,158.81 L533.90,159.20" fill="none" stroke="#000" stroke-width="1.3" stroke-linejoin="round"/>
<path d="M526.13,130.28 L526.76,130.34 L526.61,131.15 L526.64,131.99 L527.79,132.64 L527.70,133.75 L527.95,134.84 L527.59,136.12 L528.41,136.66 L529.20,137.28 L527.77,138.40 L529.27,138.97 L528.95,139.92 L530.02,140.63 L528.38,141.86 L530.38,142.41 L529.53,143.49 L528.89,144.52 L530.31,145.11 L529.54,146.11 L531.10,146.71 L529.57,147.94 L529.88,148.80 L530.77,149.56 L530.84,150.46 L532.08,151.10 L530.89,152.22 L531.19,153.00 L532.19,153.55 L532.18,154.29 L531.70,155.14 L532.41,156.07 L532.97,156.91 L533.33,157.73 L533.91,158.25 L534.22,158.81 L534.50,159.20" fill="none" stroke="#000" stroke-width="1.0" stroke-linejoin="round"/>
<path d="M508.09999999999997,107.30000000000001 H509.7 V159.2 H572.7" fill="none" stroke="#222" stroke-width="1.1"/>
<text x="0" y="0" font-size="3.6" fill="#555" stroke="#555" stroke-width="0.12" font-weight="normal" transform="translate(507.5,107.7) rotate(-90)" text-anchor="middle">20</text>
<text x="0" y="0" font-size="3.7" fill="#555" stroke="#555" stroke-width="0.15" font-weight="normal" transform="translate(503.7,134.05) rotate(-90)" text-anchor="middle">Events</text>
<text x="506.7" y="160.2" font-size="3.2" fill="#888" font-weight="normal">0</text>
<text x="510.9" y="163.79999999999998" font-size="4.0" fill="#333" stroke="#333" stroke-width="0.12" font-weight="normal" text-anchor="middle">10<tspan font-size="2.4" dy="-1.4">0</tspan></text>
<text x="526.3" y="163.79999999999998" font-size="4.0" fill="#333" stroke="#333" stroke-width="0.12" font-weight="normal" text-anchor="middle">10<tspan font-size="2.4" dy="-1.4">1</tspan></text>
<text x="541.6999999999999" y="163.79999999999998" font-size="4.0" fill="#333" stroke="#333" stroke-width="0.12" font-weight="normal" text-anchor="middle">10<tspan font-size="2.4" dy="-1.4">2</tspan></text>
<text x="557.1" y="163.79999999999998" font-size="4.0" fill="#333" stroke="#333" stroke-width="0.12" font-weight="normal" text-anchor="middle">10<tspan font-size="2.4" dy="-1.4">3</tspan></text>
<text x="572.5" y="163.79999999999998" font-size="4.0" fill="#333" stroke="#333" stroke-width="0.12" font-weight="normal" text-anchor="middle">10<tspan font-size="2.4" dy="-1.4">4</tspan></text>
<text x="540.7" y="168.39999999999998" font-size="3.9" fill="#333" stroke="#333" stroke-width="0.12" font-weight="normal" text-anchor="middle">FL1-H</text>
<line x1="527" y1="112.8" x2="572.1" y2="112.8" stroke="#111" stroke-width="1.4"/>
<text x="0" y="0" transform="translate(551.3,109.7) scale(1,1.08)" font-size="8.2" text-anchor="middle" font-weight="bold" fill="#000" stroke="#000" stroke-width="0.1" >33.12%</text>
<path d="M333.00,232.50 L333.05,232.16 L333.14,231.75 L333.16,231.28 L333.21,230.76 L333.28,230.18 L333.51,229.58 L333.37,228.88 L333.77,228.21 L333.86,227.46 L333.74,226.65 L334.09,225.87 L334.03,225.00 L333.77,224.46 L334.06,223.94 L333.78,223.33 L333.91,222.74 L334.74,222.20 L334.15,221.49 L334.83,220.89 L334.64,220.19 L334.90,219.53 L334.34,218.78 L334.74,218.12 L334.36,217.39 L335.25,216.80 L334.63,216.05 L335.17,215.45 L335.61,214.86 L334.91,214.15 L335.10,213.57 L334.87,212.96 L335.39,212.49 L335.22,211.96 L335.51,211.10 L336.14,210.36 L336.30,209.59 L336.17,208.82 L336.10,208.10 L336.50,207.54 L336.04,206.81 L336.61,206.38 L336.87,205.92 L336.94,205.44 L336.81,204.93 L337.00,203.65 L337.73,203.17 L338.28,202.66 L338.80,203.31 L339.07,204.09 L339.60,204.78 L340.07,205.06 L340.83,205.40 L340.37,206.30 L341.12,206.75 L341.23,207.43 L341.81,207.85 L341.94,208.49 L341.77,209.23 L342.25,209.59 L343.08,209.97 L342.58,211.16 L343.24,211.41 L343.08,212.00 L343.15,212.56 L344.10,212.90 L343.64,213.68 L343.92,214.26 L344.18,214.87 L343.96,215.62 L344.68,216.10 L344.32,216.88 L344.56,217.48 L344.67,218.09 L344.97,218.64 L345.20,219.23 L345.39,219.83 L345.49,220.46 L345.61,221.08 L345.80,221.68 L346.15,222.23 L346.71,222.71 L346.90,223.27 L346.52,223.99 L346.95,224.45 L347.04,224.99 L347.62,225.61 L347.82,226.33 L348.05,227.02 L347.78,227.88 L348.21,228.42 L348.49,228.99 L348.91,229.44 L349.09,229.96 L349.42,230.68 L349.72,231.34 L350.16,231.80 L350.48,232.20 L350.70,232.50 Z" fill="#b4b4b4" stroke="#666" stroke-width="0.6"/>
<path d="M335.00,232.50 L335.29,232.00 L335.86,231.45 L336.34,230.64 L337.09,229.91 L337.33,228.80 L338.42,228.24 L337.90,227.07 L339.16,226.87 L339.10,225.93 L339.74,225.34 L340.61,224.82 L339.95,223.54 L340.65,222.87 L341.73,222.31 L341.03,221.16 L341.55,220.46 L341.98,219.68 L342.87,219.02 L342.42,217.90 L341.85,216.73 L342.66,216.07 L342.97,215.26 L343.17,214.45 L344.83,214.41 L344.84,213.28 L344.74,212.06 L345.94,211.62 L345.87,210.50 L347.16,210.58 L347.09,209.78 L347.26,208.65 L347.40,209.98 L348.00,210.16 L348.50,210.94 L349.57,211.71 L349.45,213.02 L349.66,213.67 L350.80,214.10 L351.16,214.85 L349.62,216.18 L351.48,216.54 L351.19,217.54 L350.65,218.69 L352.24,218.95 L352.21,219.88 L352.19,220.89 L353.05,221.38 L354.02,221.77 L354.38,222.63 L353.94,224.21 L355.69,223.85 L355.91,224.82 L356.50,225.39 L356.95,226.06 L357.96,226.28 L358.49,226.97 L358.89,227.87 L359.71,228.09 L360.42,228.46 L361.39,228.32 L361.96,229.10 L362.94,229.05 L363.62,229.89 L364.57,230.07 L365.47,230.38 L366.41,230.47 L367.29,230.58 L367.98,231.04 L368.97,231.42 L369.97,231.62 L370.79,232.00 L371.49,232.30 L372.00,232.50" fill="none" stroke="#000" stroke-width="1.3" stroke-linejoin="round"/>
<path d="M347.76,210.58 L347.69,209.78 L347.86,208.65 L348.00,209.98 L348.60,210.16 L349.10,210.94 L350.17,211.71 L350.05,213.02 L350.26,213.67 L351.40,214.10 L351.76,214.85 L350.22,216.18 L352.08,216.54 L351.79,217.54 L351.25,218.69 L352.84,218.95 L352.81,219.88 L352.79,220.89 L353.65,221.38 L354.62,221.77 L354.98,222.63 L354.54,224.21 L356.29,223.85 L356.51,224.82 L357.10,225.39 L357.55,226.06 L358.56,226.28 L359.09,226.97 L359.49,227.87 L360.31,228.09 L361.02,228.46 L361.99,228.32 L362.56,229.10 L363.54,229.05 L364.22,229.89 L365.17,230.07 L366.07,230.38 L367.01,230.47 L367.89,230.58 L368.58,231.04 L369.57,231.42 L370.57,231.62 L371.39,232.00 L372.09,232.30 L372.60,232.50" fill="none" stroke="#000" stroke-width="1.0" stroke-linejoin="round"/>
<path d="M330.0,178.9 H331.6 V232.5 H394.6" fill="none" stroke="#222" stroke-width="1.1"/>
<text x="0" y="0" font-size="3.6" fill="#555" stroke="#555" stroke-width="0.12" font-weight="normal" transform="translate(329.40000000000003,179.3) rotate(-90)" text-anchor="middle">20</text>
<text x="0" y="0" font-size="3.7" fill="#555" stroke="#555" stroke-width="0.15" font-weight="normal" transform="translate(325.6,206.5) rotate(-90)" text-anchor="middle">Events</text>
<text x="328.6" y="233.5" font-size="3.2" fill="#888" font-weight="normal">0</text>
<text x="332.8" y="237.1" font-size="4.0" fill="#333" stroke="#333" stroke-width="0.12" font-weight="normal" text-anchor="middle">10<tspan font-size="2.4" dy="-1.4">0</tspan></text>
<text x="348.2" y="237.1" font-size="4.0" fill="#333" stroke="#333" stroke-width="0.12" font-weight="normal" text-anchor="middle">10<tspan font-size="2.4" dy="-1.4">1</tspan></text>
<text x="363.6" y="237.1" font-size="4.0" fill="#333" stroke="#333" stroke-width="0.12" font-weight="normal" text-anchor="middle">10<tspan font-size="2.4" dy="-1.4">2</tspan></text>
<text x="379.0" y="237.1" font-size="4.0" fill="#333" stroke="#333" stroke-width="0.12" font-weight="normal" text-anchor="middle">10<tspan font-size="2.4" dy="-1.4">3</tspan></text>
<text x="394.40000000000003" y="237.1" font-size="4.0" fill="#333" stroke="#333" stroke-width="0.12" font-weight="normal" text-anchor="middle">10<tspan font-size="2.4" dy="-1.4">4</tspan></text>
<text x="362.6" y="241.7" font-size="3.9" fill="#333" stroke="#333" stroke-width="0.12" font-weight="normal" text-anchor="middle">FL2-H</text>
<line x1="350" y1="189.8" x2="394.6" y2="189.8" stroke="#111" stroke-width="1.4"/>
<text x="0" y="0" transform="translate(372.3,187.2) scale(1,1.08)" font-size="8.2" text-anchor="middle" font-weight="bold" fill="#000" stroke="#000" stroke-width="0.1" >45.12%</text>
<path d="M422.00,232.50 L422.05,232.15 L422.13,231.74 L422.23,231.27 L422.29,230.73 L422.45,230.15 L422.38,229.50 L422.41,228.81 L422.44,228.09 L422.76,227.38 L422.93,226.62 L423.06,225.83 L423.39,225.05 L423.38,224.54 L423.51,224.01 L422.79,223.36 L423.33,222.83 L423.47,222.24 L423.83,221.65 L423.07,220.93 L423.82,220.36 L423.44,219.66 L424.10,219.08 L423.33,218.33 L423.42,217.68 L423.88,217.08 L424.10,216.46 L423.65,215.77 L424.18,215.22 L424.34,214.64 L424.69,214.11 L424.15,213.47 L424.43,212.99 L424.86,212.28 L424.46,211.43 L424.50,210.67 L424.91,210.01 L425.42,209.40 L425.38,208.69 L425.92,208.15 L425.92,207.51 L425.93,206.90 L426.49,206.49 L426.29,205.89 L426.36,205.41 L426.23,204.87 L427.34,204.24 L427.79,203.77 L427.94,202.78 L428.62,202.79 L429.47,202.88 L429.91,203.79 L430.81,204.21 L430.64,205.16 L431.40,205.32 L431.37,206.19 L432.37,206.28 L432.85,206.77 L432.73,207.57 L433.28,207.93 L433.20,208.65 L433.93,209.09 L434.18,209.93 L434.13,210.49 L434.38,210.97 L434.23,211.64 L435.09,211.98 L434.59,212.81 L434.74,213.46 L435.53,213.91 L435.52,214.65 L435.33,215.45 L436.37,215.89 L435.74,216.67 L435.93,217.24 L436.77,217.67 L436.53,218.40 L436.86,219.00 L436.79,219.71 L436.71,220.41 L436.97,221.04 L437.51,221.59 L437.48,222.26 L437.72,222.85 L437.99,223.41 L438.31,223.91 L438.14,224.72 L438.15,225.46 L439.00,225.94 L439.06,226.64 L439.22,227.28 L439.03,228.02 L439.25,228.59 L439.48,229.11 L439.93,229.51 L439.88,230.06 L440.36,230.98 L440.85,231.64 L441.24,232.13 L441.50,232.50 Z" fill="#b4b4b4" stroke="#666" stroke-width="0.6"/>
<path d="M422.00,232.50 L422.37,232.06 L422.67,231.31 L423.14,230.50 L423.69,229.65 L424.44,228.87 L424.63,227.78 L425.00,227.15 L426.16,227.00 L426.13,226.15 L426.20,225.34 L427.57,225.13 L428.07,224.36 L426.92,222.77 L428.34,222.14 L429.09,221.68 L428.30,220.60 L428.77,219.91 L428.39,218.89 L429.11,218.20 L430.53,217.70 L430.55,216.73 L430.24,215.65 L431.11,214.95 L430.75,213.87 L431.66,213.22 L432.03,212.43 L431.04,211.24 L432.24,210.84 L431.84,209.94 L432.68,209.10 L432.36,207.88 L433.34,207.25 L434.18,206.64 L434.10,205.70 L434.16,204.88 L434.84,204.39 L434.85,203.64 L434.99,203.00 L435.99,201.95 L436.85,201.12 L436.38,199.74 L436.86,200.65 L436.58,200.86 L437.82,200.80 L437.06,201.94 L438.75,202.27 L438.46,203.39 L439.11,204.21 L438.59,205.40 L440.37,205.66 L439.16,206.97 L440.90,207.08 L440.44,208.03 L440.97,208.60 L441.23,209.31 L441.15,210.24 L441.98,210.87 L442.49,211.78 L442.55,212.54 L443.51,212.98 L442.70,214.29 L443.77,214.79 L444.40,215.52 L443.96,216.78 L443.98,217.83 L445.59,218.10 L445.74,219.05 L446.21,219.80 L446.38,220.65 L446.39,221.56 L447.51,221.63 L447.87,222.58 L448.41,223.26 L448.77,224.06 L449.58,224.24 L450.09,224.78 L450.36,225.75 L451.45,225.38 L452.19,225.69 L452.71,226.43 L453.45,226.83 L454.01,227.59 L455.20,227.17 L455.54,228.42 L456.38,228.63 L457.24,228.75 L458.07,228.78 L458.94,228.92 L459.76,229.16 L460.55,229.74 L461.43,229.66 L462.28,229.80 L463.14,229.91 L463.97,230.18 L464.81,230.31 L465.61,230.54 L466.42,230.67 L467.25,230.76 L468.17,230.51 L469.03,230.90 L470.01,230.97 L470.74,231.07 L471.51,231.38 L472.37,231.44 L473.26,231.45 L474.14,231.54 L474.98,231.83 L475.84,231.84 L476.63,231.98 L477.35,232.15 L478.00,232.18 L479.12,232.32 L480.08,232.40 L480.88,232.45 L481.52,232.47 L482.00,232.50" fill="none" stroke="#000" stroke-width="1.3" stroke-linejoin="round"/>
<path d="M437.45,201.12 L437.46,200.65 L438.42,200.80 L437.66,201.94 L439.35,202.27 L439.06,203.39 L439.71,204.21 L439.19,205.40 L440.97,205.66 L439.76,206.97 L441.50,207.08 L441.04,208.03 L441.57,208.60 L441.83,209.31 L441.75,210.24 L442.58,210.87 L443.09,211.78 L443.15,212.54 L444.11,212.98 L443.30,214.29 L444.37,214.79 L445.00,215.52 L444.56,216.78 L444.58,217.83 L446.19,218.10 L446.34,219.05 L446.81,219.80 L446.98,220.65 L446.99,221.56 L448.11,221.63 L448.47,222.58 L449.01,223.26 L449.37,224.06 L450.18,224.24 L450.69,224.78 L450.96,225.75 L452.05,225.38 L452.79,225.69 L453.31,226.43 L454.05,226.83 L454.61,227.59 L455.80,227.17 L456.14,228.42 L456.98,228.63 L457.84,228.75 L458.67,228.78 L459.54,228.92 L460.36,229.16 L461.15,229.74 L462.03,229.66 L462.88,229.80 L463.74,229.91 L464.57,230.18 L465.41,230.31 L466.21,230.54 L467.02,230.67 L467.85,230.76 L468.77,230.51 L469.63,230.90 L470.61,230.97 L471.34,231.07 L472.11,231.38 L472.97,231.44 L473.86,231.45 L474.74,231.54 L475.58,231.83 L476.44,231.84 L477.23,231.98 L477.95,232.15 L478.60,232.18 L479.72,232.32 L480.68,232.40 L481.48,232.45 L482.12,232.47 L482.60,232.50" fill="none" stroke="#000" stroke-width="1.0" stroke-linejoin="round"/>
<path d="M419.0,178.9 H420.6 V232.5 H483.6" fill="none" stroke="#222" stroke-width="1.1"/>
<text x="0" y="0" font-size="3.6" fill="#555" stroke="#555" stroke-width="0.12" font-weight="normal" transform="translate(418.40000000000003,179.3) rotate(-90)" text-anchor="middle">20</text>
<text x="0" y="0" font-size="3.7" fill="#555" stroke="#555" stroke-width="0.15" font-weight="normal" transform="translate(414.6,206.5) rotate(-90)" text-anchor="middle">Events</text>
<text x="417.6" y="233.5" font-size="3.2" fill="#888" font-weight="normal">0</text>
<text x="421.8" y="237.1" font-size="4.0" fill="#333" stroke="#333" stroke-width="0.12" font-weight="normal" text-anchor="middle">10<tspan font-size="2.4" dy="-1.4">0</tspan></text>
<text x="437.2" y="237.1" font-size="4.0" fill="#333" stroke="#333" stroke-width="0.12" font-weight="normal" text-anchor="middle">10<tspan font-size="2.4" dy="-1.4">1</tspan></text>
<text x="452.6" y="237.1" font-size="4.0" fill="#333" stroke="#333" stroke-width="0.12" font-weight="normal" text-anchor="middle">10<tspan font-size="2.4" dy="-1.4">2</tspan></text>
<text x="468.0" y="237.1" font-size="4.0" fill="#333" stroke="#333" stroke-width="0.12" font-weight="normal" text-anchor="middle">10<tspan font-size="2.4" dy="-1.4">3</tspan></text>
<text x="483.40000000000003" y="237.1" font-size="4.0" fill="#333" stroke="#333" stroke-width="0.12" font-weight="normal" text-anchor="middle">10<tspan font-size="2.4" dy="-1.4">4</tspan></text>
<text x="451.6" y="241.7" font-size="3.9" fill="#333" stroke="#333" stroke-width="0.12" font-weight="normal" text-anchor="middle">FL2-H</text>
<line x1="440" y1="189.8" x2="484.6" y2="189.8" stroke="#111" stroke-width="1.4"/>
<text x="0" y="0" transform="translate(459.1,187.2) scale(1,1.08)" font-size="8.2" text-anchor="middle" font-weight="bold" fill="#000" stroke="#000" stroke-width="0.1" >45.64%</text>
<path d="M511.00,232.00 L511.05,231.64 L511.10,231.22 L511.18,230.73 L511.38,230.20 L511.35,229.57 L511.35,228.90 L511.46,228.19 L511.41,227.42 L511.96,226.69 L511.90,225.85 L511.92,224.99 L512.07,224.51 L512.32,224.01 L512.56,223.47 L511.99,222.83 L512.62,222.29 L511.94,221.60 L512.75,221.04 L512.63,220.38 L512.04,219.67 L512.15,219.02 L512.35,218.38 L512.92,217.77 L512.71,217.10 L512.82,216.46 L512.99,215.85 L512.48,215.17 L513.35,214.67 L513.42,214.10 L513.41,213.55 L513.15,212.99 L513.55,212.27 L513.42,211.49 L513.42,210.75 L514.06,210.11 L513.42,209.31 L513.47,208.64 L513.88,208.05 L513.59,207.38 L513.69,206.80 L514.07,206.32 L514.69,205.93 L514.55,205.44 L514.17,204.91 L515.19,203.92 L515.52,203.58 L515.59,203.45 L516.02,203.31 L516.73,203.66 L516.88,204.59 L517.71,204.82 L517.38,205.87 L517.93,206.42 L518.09,207.23 L518.53,207.67 L518.76,208.20 L519.27,208.61 L519.79,209.15 L520.30,209.88 L519.86,210.59 L520.57,210.92 L520.17,211.68 L520.41,212.26 L520.60,212.87 L520.80,213.51 L521.64,213.95 L521.42,214.74 L521.53,215.43 L522.26,215.92 L521.89,216.63 L522.32,217.12 L522.92,217.58 L522.89,218.23 L523.24,218.78 L523.17,219.45 L523.11,220.12 L522.96,220.81 L523.75,221.23 L523.55,221.91 L523.76,222.47 L523.66,223.10 L524.63,223.52 L524.76,224.20 L524.66,224.95 L525.00,225.55 L524.99,226.25 L525.45,226.78 L525.24,227.51 L525.80,227.93 L525.90,228.49 L526.01,229.00 L526.26,229.76 L526.78,230.31 L527.08,230.91 L527.49,231.33 L527.78,231.71 L528.00,232.00 Z" fill="#b4b4b4" stroke="#666" stroke-width="0.6"/>
<path d="M512.00,232.00 L512.35,231.63 L512.79,231.12 L513.36,230.54 L513.67,229.62 L514.70,229.09 L514.69,227.83 L515.33,227.39 L515.73,226.78 L516.49,226.27 L515.93,225.18 L517.18,224.75 L517.66,223.99 L517.63,223.00 L517.95,222.10 L517.75,221.00 L517.19,219.76 L517.48,219.11 L518.82,218.72 L519.23,218.02 L519.25,217.20 L518.91,216.27 L520.05,215.70 L518.46,214.43 L520.01,213.92 L519.02,212.80 L520.34,212.22 L521.14,211.52 L520.60,210.50 L520.58,209.62 L520.17,208.66 L520.38,207.86 L520.43,207.02 L521.16,206.30 L522.18,205.60 L521.22,204.49 L521.64,203.64 L522.19,202.83 L521.96,201.87 L521.87,200.95 L523.52,200.39 L522.20,199.28 L522.76,198.58 L523.36,197.94 L523.71,197.31 L523.26,196.54 L523.55,196.01 L524.59,194.80 L523.72,193.18 L524.96,192.82 L525.36,192.63 L525.94,191.48 L525.62,192.75 L525.59,193.34 L525.82,194.04 L526.82,194.72 L527.41,195.66 L527.66,196.76 L528.07,197.84 L527.63,198.69 L527.58,199.48 L527.43,200.33 L527.76,201.10 L528.08,201.91 L528.48,202.72 L528.67,203.60 L529.95,204.23 L529.48,205.29 L529.34,206.28 L529.56,207.17 L529.89,208.03 L529.84,208.85 L530.92,209.44 L531.02,210.28 L530.28,211.32 L530.04,212.27 L530.72,213.01 L531.59,213.69 L532.49,214.34 L531.64,215.43 L532.48,216.05 L532.92,216.73 L532.51,217.66 L532.72,218.37 L533.34,218.84 L532.85,220.23 L533.70,220.89 L534.91,221.20 L534.62,222.51 L535.28,223.11 L536.22,223.37 L537.11,223.57 L536.89,225.14 L538.28,224.56 L538.69,225.45 L539.27,226.34 L540.48,225.55 L541.23,226.11 L542.10,226.25 L542.85,226.83 L543.58,227.30 L544.36,227.02 L544.98,227.20 L546.26,226.68 L547.06,226.73 L547.96,227.57 L548.77,226.95 L549.55,227.19 L550.39,227.34 L551.18,227.74 L552.16,227.59 L552.85,228.24 L553.65,228.69 L554.42,229.18 L555.28,229.49 L555.92,230.20 L556.73,230.43 L557.59,230.32 L558.30,230.80 L559.17,230.67 L559.99,231.04 L560.85,231.12 L561.78,231.37 L562.75,231.55 L563.66,231.77 L564.44,231.90 L565.00,232.00" fill="none" stroke="#000" stroke-width="1.3" stroke-linejoin="round"/>
<path d="M525.96,192.63 L526.54,191.48 L526.22,192.75 L526.19,193.34 L526.42,194.04 L527.42,194.72 L528.01,195.66 L528.26,196.76 L528.67,197.84 L528.23,198.69 L528.18,199.48 L528.03,200.33 L528.36,201.10 L528.68,201.91 L529.08,202.72 L529.27,203.60 L530.55,204.23 L530.08,205.29 L529.94,206.28 L530.16,207.17 L530.49,208.03 L530.44,208.85 L531.52,209.44 L531.62,210.28 L530.88,211.32 L530.64,212.27 L531.32,213.01 L532.19,213.69 L533.09,214.34 L532.24,215.43 L533.08,216.05 L533.52,216.73 L533.11,217.66 L533.32,218.37 L533.94,218.84 L533.45,220.23 L534.30,220.89 L535.51,221.20 L535.22,222.51 L535.88,223.11 L536.82,223.37 L537.71,223.57 L537.49,225.14 L538.88,224.56 L539.29,225.45 L539.87,226.34 L541.08,225.55 L541.83,226.11 L542.70,226.25 L543.45,226.83 L544.18,227.30 L544.96,227.02 L545.58,227.20 L546.86,226.68 L547.66,226.73 L548.56,227.57 L549.37,226.95 L550.15,227.19 L550.99,227.34 L551.78,227.74 L552.76,227.59 L553.45,228.24 L554.25,228.69 L555.02,229.18 L555.88,229.49 L556.52,230.20 L557.33,230.43 L558.19,230.32 L558.90,230.80 L559.77,230.67 L560.59,231.04 L561.45,231.12 L562.38,231.37 L563.35,231.55 L564.26,231.77 L565.04,231.90 L565.60,232.00" fill="none" stroke="#000" stroke-width="1.0" stroke-linejoin="round"/>
<path d="M507.9,178.9 H509.5 V232 H572.5" fill="none" stroke="#222" stroke-width="1.1"/>
<text x="0" y="0" font-size="3.6" fill="#555" stroke="#555" stroke-width="0.12" font-weight="normal" transform="translate(507.3,179.3) rotate(-90)" text-anchor="middle">20</text>
<text x="0" y="0" font-size="3.7" fill="#555" stroke="#555" stroke-width="0.15" font-weight="normal" transform="translate(503.5,206.25) rotate(-90)" text-anchor="middle">Events</text>
<text x="506.5" y="233" font-size="3.2" fill="#888" font-weight="normal">0</text>
<text x="510.7" y="236.6" font-size="4.0" fill="#333" stroke="#333" stroke-width="0.12" font-weight="normal" text-anchor="middle">10<tspan font-size="2.4" dy="-1.4">0</tspan></text>
<text x="526.1" y="236.6" font-size="4.0" fill="#333" stroke="#333" stroke-width="0.12" font-weight="normal" text-anchor="middle">10<tspan font-size="2.4" dy="-1.4">1</tspan></text>
<text x="541.5" y="236.6" font-size="4.0" fill="#333" stroke="#333" stroke-width="0.12" font-weight="normal" text-anchor="middle">10<tspan font-size="2.4" dy="-1.4">2</tspan></text>
<text x="556.9" y="236.6" font-size="4.0" fill="#333" stroke="#333" stroke-width="0.12" font-weight="normal" text-anchor="middle">10<tspan font-size="2.4" dy="-1.4">3</tspan></text>
<text x="572.3" y="236.6" font-size="4.0" fill="#333" stroke="#333" stroke-width="0.12" font-weight="normal" text-anchor="middle">10<tspan font-size="2.4" dy="-1.4">4</tspan></text>
<text x="540.5" y="241.2" font-size="3.9" fill="#333" stroke="#333" stroke-width="0.12" font-weight="normal" text-anchor="middle">FL2-H</text>
<line x1="526.5" y1="190.5" x2="570.1" y2="190.5" stroke="#111" stroke-width="1.4"/>
<text x="0" y="0" transform="translate(550.3,189.2) scale(1,1.08)" font-size="8.2" text-anchor="middle" font-weight="bold" fill="#000" stroke="#000" stroke-width="0.1" >57.64%</text>
<text x="0" y="0" transform="translate(1.0,262) scale(1,1.08)" font-size="12.5" text-anchor="start" font-weight="bold" fill="#000" stroke="#000" stroke-width="0.1" >c</text>
<path d="M36.3,276.6 V385.8 H270.1" fill="none" stroke="#111" stroke-width="1.3"/>
<line x1="36.3" y1="385.8" x2="38.5" y2="385.8" stroke="#111" stroke-width="1.2"/>
<text x="0" y="0" transform="translate(30.4,389.40000000000003) scale(1,1.08)" font-size="9.2" text-anchor="end" font-weight="bold" fill="#000" stroke="#000" stroke-width="0.1" >0</text>
<line x1="36.3" y1="370.2" x2="38.5" y2="370.2" stroke="#111" stroke-width="1.2"/>
<text x="0" y="0" transform="translate(30.4,373.8) scale(1,1.08)" font-size="9.2" text-anchor="end" font-weight="bold" fill="#000" stroke="#000" stroke-width="0.1" >2</text>
<line x1="36.3" y1="354.6" x2="38.5" y2="354.6" stroke="#111" stroke-width="1.2"/>
<text x="0" y="0" transform="translate(30.4,358.20000000000005) scale(1,1.08)" font-size="9.2" text-anchor="end" font-weight="bold" fill="#000" stroke="#000" stroke-width="0.1" >4</text>
<line x1="36.3" y1="339.0" x2="38.5" y2="339.0" stroke="#111" stroke-width="1.2"/>
<text x="0" y="0" transform="translate(30.4,342.6) scale(1,1.08)" font-size="9.2" text-anchor="end" font-weight="bold" fill="#000" stroke="#000" stroke-width="0.1" >6</text>
<line x1="36.3" y1="323.40000000000003" x2="38.5" y2="323.40000000000003" stroke="#111" stroke-width="1.2"/>
<text x="0" y="0" transform="translate(30.4,327.00000000000006) scale(1,1.08)" font-size="9.2" text-anchor="end" font-weight="bold" fill="#000" stroke="#000" stroke-width="0.1" >8</text>
<line x1="36.3" y1="307.8" x2="38.5" y2="307.8" stroke="#111" stroke-width="1.2"/>
<text x="0" y="0" transform="translate(30.4,311.40000000000003) scale(1,1.08)" font-size="9.2" text-anchor="end" font-weight="bold" fill="#000" stroke="#000" stroke-width="0.1" >10</text>
<line x1="36.3" y1="292.20000000000005" x2="38.5" y2="292.20000000000005" stroke="#111" stroke-width="1.2"/>
<text x="0" y="0" transform="translate(30.4,295.80000000000007) scale(1,1.08)" font-size="9.2" text-anchor="end" font-weight="bold" fill="#000" stroke="#000" stroke-width="0.1" >12</text>
<line x1="36.3" y1="276.6" x2="38.5" y2="276.6" stroke="#111" stroke-width="1.2"/>
<text x="0" y="0" transform="translate(30.4,280.20000000000005) scale(1,1.08)" font-size="9.2" text-anchor="end" font-weight="bold" fill="#000" stroke="#000" stroke-width="0.1" >14</text>
<line x1="94.9" y1="385.8" x2="94.9" y2="382.3" stroke="#111" stroke-width="1.1"/>
<line x1="153.1" y1="385.8" x2="153.1" y2="382.3" stroke="#111" stroke-width="1.1"/>
<line x1="211.7" y1="385.8" x2="211.7" y2="382.3" stroke="#111" stroke-width="1.1"/>
<line x1="270.1" y1="385.8" x2="270.1" y2="382.3" stroke="#111" stroke-width="1.1"/>
<rect x="53.3" y="377.6" width="24.400000000000006" height="8.199999999999989" fill="#000"/>
<rect x="111.9" y="364.9" width="24.19999999999999" height="20.900000000000034" fill="#000"/>
<rect x="170.4" y="315.5" width="24.299999999999983" height="70.30000000000001" fill="#000"/>
<rect x="228.4" y="293" width="24.5" height="92.80000000000001" fill="#000"/>
<line x1="123.8" y1="357.3" x2="123.8" y2="365" stroke="#111" stroke-width="1.2"/>
<line x1="122.1" y1="357.3" x2="125.5" y2="357.3" stroke="#111" stroke-width="1.3"/>
<line x1="182.5" y1="314.4" x2="182.5" y2="316" stroke="#111" stroke-width="1.2"/>
<line x1="180.8" y1="314.4" x2="184.2" y2="314.4" stroke="#111" stroke-width="1.3"/>
<line x1="240.7" y1="287.6" x2="240.7" y2="293.5" stroke="#111" stroke-width="1.2"/>
<line x1="239.0" y1="287.6" x2="242.39999999999998" y2="287.6" stroke="#111" stroke-width="1.3"/>
<path d="M66.3,291 V272.8 H239.9 V281.5" fill="none" stroke="#333" stroke-width="1.2"/>
<path d="M66.3,367.6 V300.8 H182.4 V309" fill="none" stroke="#333" stroke-width="1.2"/>
<polygon points="147.50,264.50 148.21,266.23 150.07,266.37 148.64,267.57 149.09,269.38 147.50,268.40 145.91,269.38 146.36,267.57 144.93,266.37 146.79,266.23" fill="#000" stroke="#000" stroke-width="0.35" stroke-linejoin="round"/>
<polygon points="153.40,264.50 154.11,266.23 155.97,266.37 154.54,267.57 154.99,269.38 153.40,268.40 151.81,269.38 152.26,267.57 150.83,266.37 152.69,266.23" fill="#000" stroke="#000" stroke-width="0.35" stroke-linejoin="round"/>
<polygon points="125.10,293.10 125.81,294.83 127.67,294.97 126.24,296.17 126.69,297.98 125.10,297.00 123.51,297.98 123.96,296.17 122.53,294.97 124.39,294.83" fill="#000" stroke="#000" stroke-width="0.35" stroke-linejoin="round"/>
<polygon points="131.00,293.10 131.71,294.83 133.57,294.97 132.14,296.17 132.59,297.98 131.00,297.00 129.41,297.98 129.86,296.17 128.43,294.97 130.29,294.83" fill="#000" stroke="#000" stroke-width="0.35" stroke-linejoin="round"/>
<text x="0" y="0" transform="translate(66.6,398.8) scale(1,1.0)" font-size="9.8" text-anchor="middle" font-weight="bold" fill="#000" stroke="#000" stroke-width="0.1" >PBS</text>
<text x="0" y="0" transform="translate(123.3,398.8) scale(1,1.0)" font-size="9.8" text-anchor="middle" font-weight="bold" fill="#000" stroke="#000" stroke-width="0.1" >Imiquimod</text>
<text x="0" y="0" transform="translate(185.4,398.8) scale(1,1.0)" font-size="9.8" text-anchor="middle" font-weight="bold" fill="#000" stroke="#000" stroke-width="0.1" >Gardiquimod</text>
<text x="0" y="0" transform="translate(240,398.8) scale(1,1.0)" font-size="9.8" text-anchor="middle" font-weight="bold" fill="#000" stroke="#000" stroke-width="0.1" >LPS</text>
<text x="0" y="0" font-size="10.5" font-weight="bold" text-anchor="middle" stroke="#000" stroke-width="0.1" transform="translate(16.6,321.7) rotate(-90) scale(1,1.06)">Relative Expression</text>
<text x="0" y="0" transform="translate(284.5,264.6) scale(1,1.1)" font-size="14" text-anchor="start" font-weight="bold" fill="#000" stroke="#000" stroke-width="0.1" >d</text>
<path d="M321.5,276.28000000000003 V386.6 H520.7" fill="none" stroke="#111" stroke-width="1.3"/>
<line x1="321.5" y1="386.6" x2="324.3" y2="386.6" stroke="#111" stroke-width="1.2"/>
<text x="0" y="0" transform="translate(309.8,391.6) scale(1,1.08)" font-size="9.4" text-anchor="middle" font-weight="bold" fill="#000" stroke="#000" stroke-width="0.1" >0</text>
<line x1="321.5" y1="372.81" x2="324.3" y2="372.81" stroke="#111" stroke-width="1.2"/>
<text x="0" y="0" transform="translate(308.3,377.81) scale(1,1.08)" font-size="9.4" text-anchor="middle" font-weight="bold" fill="#000" stroke="#000" stroke-width="0.1" >50</text>
<line x1="321.5" y1="359.02000000000004" x2="324.3" y2="359.02000000000004" stroke="#111" stroke-width="1.2"/>
<text x="0" y="0" transform="translate(308.3,364.02000000000004) scale(1,1.08)" font-size="9.4" text-anchor="middle" font-weight="bold" fill="#000" stroke="#000" stroke-width="0.1" >100</text>
<line x1="321.5" y1="345.23" x2="324.3" y2="345.23" stroke="#111" stroke-width="1.2"/>
<text x="0" y="0" transform="translate(308.3,350.23) scale(1,1.08)" font-size="9.4" text-anchor="middle" font-weight="bold" fill="#000" stroke="#000" stroke-width="0.1" >150</text>
<line x1="321.5" y1="331.44000000000005" x2="324.3" y2="331.44000000000005" stroke="#111" stroke-width="1.2"/>
<text x="0" y="0" transform="translate(308.3,336.44000000000005) scale(1,1.08)" font-size="9.4" text-anchor="middle" font-weight="bold" fill="#000" stroke="#000" stroke-width="0.1" >200</text>
<line x1="321.5" y1="317.65000000000003" x2="324.3" y2="317.65000000000003" stroke="#111" stroke-width="1.2"/>
<text x="0" y="0" transform="translate(308.3,322.65000000000003) scale(1,1.08)" font-size="9.4" text-anchor="middle" font-weight="bold" fill="#000" stroke="#000" stroke-width="0.1" >250</text>
<line x1="321.5" y1="303.86" x2="324.3" y2="303.86" stroke="#111" stroke-width="1.2"/>
<text x="0" y="0" transform="translate(308.3,308.86) scale(1,1.08)" font-size="9.4" text-anchor="middle" font-weight="bold" fill="#000" stroke="#000" stroke-width="0.1" >300</text>
<line x1="321.5" y1="290.07000000000005" x2="324.3" y2="290.07000000000005" stroke="#111" stroke-width="1.2"/>
<text x="0" y="0" transform="translate(308.3,295.07000000000005) scale(1,1.08)" font-size="9.4" text-anchor="middle" font-weight="bold" fill="#000" stroke="#000" stroke-width="0.1" >350</text>
<line x1="321.5" y1="276.28000000000003" x2="324.3" y2="276.28000000000003" stroke="#111" stroke-width="1.2"/>
<text x="0" y="0" transform="translate(308.3,281.28000000000003) scale(1,1.08)" font-size="9.4" text-anchor="middle" font-weight="bold" fill="#000" stroke="#000" stroke-width="0.1" >400</text>
<line x1="421" y1="386.6" x2="421" y2="383.1" stroke="#111" stroke-width="1.1"/>
<line x1="520.7" y1="386.6" x2="520.7" y2="383.1" stroke="#111" stroke-width="1.1"/>
<defs><pattern id="hatch" patternUnits="userSpaceOnUse" width="3.05" height="3.05" patternTransform="rotate(-45)"><rect width="3.05" height="3.05" fill="#fff"/><rect x="0" y="0" width="1.45" height="3.05" fill="#000"/></pattern></defs>
<defs><pattern id="hatchL" patternUnits="userSpaceOnUse" width="3.2" height="3.2" patternTransform="translate(0.5,0) rotate(-45)"><rect width="3.2" height="3.2" fill="#fff"/><rect x="0" y="0" width="1.6" height="3.2" fill="#000"/></pattern></defs>
<rect x="334.6" y="377.6" width="18.0" height="9.0" fill="#fff" stroke="#000" stroke-width="1.1"/>
<rect x="353.6" y="356.7" width="17.099999999999966" height="29.900000000000034" fill="#b3b3b3" stroke="#000" stroke-width="1.1"/>
<rect x="371.7" y="331.5" width="16.900000000000034" height="55.10000000000002" fill="url(#hatch)" stroke="#000" stroke-width="1.1"/>
<rect x="389.6" y="306.9" width="17.899999999999977" height="79.70000000000005" fill="#000" stroke="#000" stroke-width="1.1"/>
<rect x="434.8" y="371.6" width="17.399999999999977" height="15.0" fill="#fff" stroke="#000" stroke-width="1.1"/>
<rect x="453.2" y="330.5" width="17.30000000000001" height="56.10000000000002" fill="#b3b3b3" stroke="#000" stroke-width="1.1"/>
<rect x="471.7" y="291.2" width="16.600000000000023" height="95.40000000000003" fill="url(#hatch)" stroke="#000" stroke-width="1.1"/>
<rect x="489.3" y="289.1" width="18.0" height="97.5" fill="#000" stroke="#000" stroke-width="1.1"/>
<line x1="343.6" y1="377.0" x2="343.6" y2="377.6" stroke="#000" stroke-width="1.1"/>
<line x1="342.0" y1="377.0" x2="345.20000000000005" y2="377.0" stroke="#000" stroke-width="1.1"/>
<line x1="342.0" y1="377.6" x2="345.20000000000005" y2="377.6" stroke="#000" stroke-width="1.1"/>
<line x1="362.2" y1="354.7" x2="362.2" y2="359.2" stroke="#000" stroke-width="1.1"/>
<line x1="360.59999999999997" y1="354.7" x2="363.8" y2="354.7" stroke="#000" stroke-width="1.1"/>
<line x1="360.59999999999997" y1="359.2" x2="363.8" y2="359.2" stroke="#000" stroke-width="1.1"/>
<line x1="380.1" y1="322.5" x2="380.1" y2="340" stroke="#000" stroke-width="1.1"/>
<line x1="378.5" y1="322.5" x2="381.70000000000005" y2="322.5" stroke="#000" stroke-width="1.1"/>
<line x1="378.5" y1="340" x2="381.70000000000005" y2="340" stroke="#000" stroke-width="1.1"/>
<line x1="398.6" y1="300.4" x2="398.6" y2="313" stroke="#000" stroke-width="1.1"/>
<line x1="397.0" y1="300.4" x2="400.20000000000005" y2="300.4" stroke="#000" stroke-width="1.1"/>
<line x1="397.0" y1="313" x2="400.20000000000005" y2="313" stroke="#000" stroke-width="1.1"/>
<line x1="443.9" y1="370.6" x2="443.9" y2="372.6" stroke="#000" stroke-width="1.1"/>
<line x1="442.29999999999995" y1="370.6" x2="445.5" y2="370.6" stroke="#000" stroke-width="1.1"/>
<line x1="442.29999999999995" y1="372.6" x2="445.5" y2="372.6" stroke="#000" stroke-width="1.1"/>
<line x1="462.4" y1="327.1" x2="462.4" y2="334.8" stroke="#000" stroke-width="1.1"/>
<line x1="460.79999999999995" y1="327.1" x2="464.0" y2="327.1" stroke="#000" stroke-width="1.1"/>
<line x1="460.79999999999995" y1="334.8" x2="464.0" y2="334.8" stroke="#000" stroke-width="1.1"/>
<line x1="479.9" y1="283.4" x2="479.9" y2="299.1" stroke="#000" stroke-width="1.1"/>
<line x1="478.29999999999995" y1="283.4" x2="481.5" y2="283.4" stroke="#000" stroke-width="1.1"/>
<line x1="478.29999999999995" y1="299.1" x2="481.5" y2="299.1" stroke="#000" stroke-width="1.1"/>
<line x1="498.5" y1="283.7" x2="498.5" y2="294" stroke="#000" stroke-width="1.1"/>
<line x1="496.9" y1="283.7" x2="500.1" y2="283.7" stroke="#000" stroke-width="1.1"/>
<line x1="496.9" y1="294" x2="500.1" y2="294" stroke="#000" stroke-width="1.1"/>
<polygon points="362.20,344.10 362.91,345.83 364.77,345.97 363.34,347.17 363.79,348.98 362.20,348.00 360.61,348.98 361.06,347.17 359.63,345.97 361.49,345.83" fill="#000" stroke="#000" stroke-width="0.35" stroke-linejoin="round"/>
<polygon points="377.90,312.80 378.61,314.53 380.47,314.67 379.04,315.87 379.49,317.68 377.90,316.70 376.31,317.68 376.76,315.87 375.33,314.67 377.19,314.53" fill="#000" stroke="#000" stroke-width="0.35" stroke-linejoin="round"/>
<polygon points="383.40,312.80 384.11,314.53 385.97,314.67 384.54,315.87 384.99,317.68 383.40,316.70 381.81,317.68 382.26,315.87 380.83,314.67 382.69,314.53" fill="#000" stroke="#000" stroke-width="0.35" stroke-linejoin="round"/>
<polygon points="397.00,289.90 397.71,291.63 399.57,291.77 398.14,292.97 398.59,294.78 397.00,293.80 395.41,294.78 395.86,292.97 394.43,291.77 396.29,291.63" fill="#000" stroke="#000" stroke-width="0.35" stroke-linejoin="round"/>
<polygon points="402.50,289.90 403.21,291.63 405.07,291.77 403.64,292.97 404.09,294.78 402.50,293.80 400.91,294.78 401.36,292.97 399.93,291.77 401.79,291.63" fill="#000" stroke="#000" stroke-width="0.35" stroke-linejoin="round"/>
<polygon points="462.10,316.20 462.81,317.93 464.67,318.07 463.24,319.27 463.69,321.08 462.10,320.10 460.51,321.08 460.96,319.27 459.53,318.07 461.39,317.93" fill="#000" stroke="#000" stroke-width="0.35" stroke-linejoin="round"/>
<polygon points="477.40,272.10 478.11,273.83 479.97,273.97 478.54,275.17 478.99,276.98 477.40,276.00 475.81,276.98 476.26,275.17 474.83,273.97 476.69,273.83" fill="#000" stroke="#000" stroke-width="0.35" stroke-linejoin="round"/>
<polygon points="483.20,272.10 483.91,273.83 485.77,273.97 484.34,275.17 484.79,276.98 483.20,276.00 481.61,276.98 482.06,275.17 480.63,273.97 482.49,273.83" fill="#000" stroke="#000" stroke-width="0.35" stroke-linejoin="round"/>
<polygon points="495.70,272.70 496.41,274.43 498.27,274.57 496.84,275.77 497.29,277.58 495.70,276.60 494.11,277.58 494.56,275.77 493.13,274.57 494.99,274.43" fill="#000" stroke="#000" stroke-width="0.35" stroke-linejoin="round"/>
<polygon points="501.70,272.70 502.41,274.43 504.27,274.57 502.84,275.77 503.29,277.58 501.70,276.60 500.11,277.58 500.56,275.77 499.13,274.57 500.99,274.43" fill="#000" stroke="#000" stroke-width="0.35" stroke-linejoin="round"/>
<text x="0" y="0" transform="translate(372.2,399.2) scale(1,1.02)" font-size="9.5" text-anchor="middle" font-weight="bold" fill="#000" stroke="#000" stroke-width="0.1" >48h</text>
<text x="0" y="0" transform="translate(472.2,399.2) scale(1,1.02)" font-size="9.5" text-anchor="middle" font-weight="bold" fill="#000" stroke="#000" stroke-width="0.1" >72h</text>
<text x="0" y="0" font-size="10.0" font-weight="bold" text-anchor="middle" stroke="#000" stroke-width="0.1" transform="translate(292.0,333.7) rotate(-90) scale(1,1.08)">IL-12 p70 (pg/ml)</text>
<rect x="522.9" y="313.5" width="9.9" height="5.4" fill="#fff" stroke="#000" stroke-width="1.1"/>
<text x="0" y="0" transform="translate(536.9,319.8) scale(1,1.02)" font-size="9.6" text-anchor="start" font-weight="bold" fill="#000" stroke="#000" stroke-width="0.1" >PBS</text>
<rect x="522.9" y="325.2" width="9.9" height="5.4" fill="#b3b3b3" stroke="#000" stroke-width="1.1"/>
<text x="0" y="0" transform="translate(536.9,331.5) scale(1,1.02)" font-size="9.6" text-anchor="start" font-weight="bold" fill="#000" stroke="#000" stroke-width="0.1" >Imiquimod</text>
<rect x="522.9" y="336.5" width="9.9" height="5.4" fill="url(#hatchL)" stroke="#000" stroke-width="1.1"/>
<text x="0" y="0" transform="translate(536.9,342.8) scale(1,1.02)" font-size="9.6" text-anchor="start" font-weight="bold" fill="#000" stroke="#000" stroke-width="0.1" >Gardiquimod</text>
<rect x="522.9" y="347.09999999999997" width="9.9" height="5.4" fill="#000" stroke="#000" stroke-width="1.1"/>
<text x="0" y="0" transform="translate(536.9,353.4) scale(1,1.02)" font-size="9.6" text-anchor="start" font-weight="bold" fill="#000" stroke="#000" stroke-width="0.1" >LPS</text>
</svg></body></html>
